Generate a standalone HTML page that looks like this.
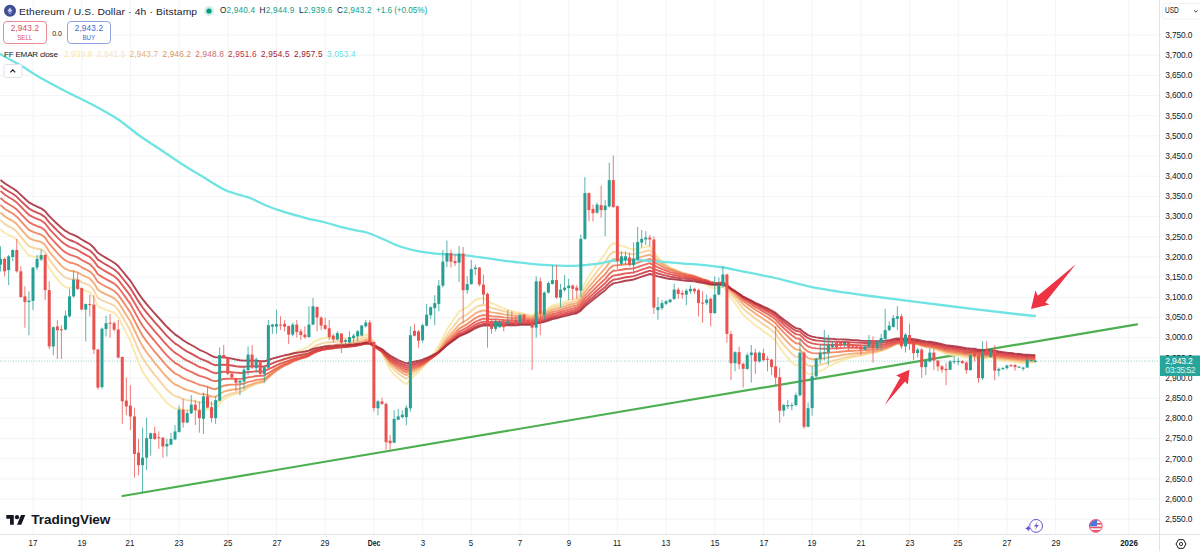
<!DOCTYPE html>
<html lang="en">
<head>
<meta charset="utf-8">
<title>ETHUSD 4h</title>
<style>
html,body{margin:0;padding:0;background:#fff;}
body{width:1200px;height:551px;overflow:hidden;position:relative;font-family:"Liberation Sans","DejaVu Sans",sans-serif;color:#131722;}
#chart{position:absolute;left:0;top:0;width:1200px;height:551px;}
.abs{position:absolute;white-space:nowrap;line-height:1;}
.title{left:19px;top:6.7px;font-size:9.8px;color:#1c2030;letter-spacing:0.14px;transform:scaleX(1.05);transform-origin:left center;}
.ohlc{top:7.1px;font-size:8.2px;color:#12a08a;letter-spacing:0.2px;}
.ohlc b{font-weight:normal;color:#131722;}
.box{position:absolute;top:21.4px;height:20.2px;width:41.6px;border:1px solid;border-radius:4px;text-align:center;background:#fff;}
.box .p{font-size:8.2px;letter-spacing:0.2px;margin-top:1.6px;line-height:9px;}
.box .l{font-size:6.9px;line-height:8px;margin-top:0.7px;display:block;transform:scaleX(0.9);}
.sell{left:3.2px;border-color:#e88a94;color:#de4a5e;}
.buy{left:67.2px;border-color:#8fa4e0;color:#4468d0;}
.spread{left:52.2px;top:29.6px;font-size:7px;color:#131722;}
.leg{top:50.8px;font-size:8.2px;letter-spacing:0.2px;}
.legn{font-size:8.1px;top:50.85px;letter-spacing:-0.23px;}
.pl{left:1165.3px;font-size:8.4px;color:#131722;letter-spacing:-0.15px;}
.tl{top:539.2px;font-size:8.8px;color:#131722;transform:translateX(-50%) scaleX(0.9);}
.tlb{font-weight:bold;}
.tlm{transform:translateX(-50%) scaleX(0.78);}
</style>
</head>
<body>
<svg id="chart" width="1200" height="551" viewBox="0 0 1200 551">
<rect width="1200" height="551" fill="#ffffff"/>
<line x1="33.0" y1="0" x2="33.0" y2="534" stroke="#f3f4f6" stroke-width="1"/>
<line x1="81.7" y1="0" x2="81.7" y2="534" stroke="#f3f4f6" stroke-width="1"/>
<line x1="130.4" y1="0" x2="130.4" y2="534" stroke="#f3f4f6" stroke-width="1"/>
<line x1="179.1" y1="0" x2="179.1" y2="534" stroke="#f3f4f6" stroke-width="1"/>
<line x1="227.8" y1="0" x2="227.8" y2="534" stroke="#f3f4f6" stroke-width="1"/>
<line x1="276.5" y1="0" x2="276.5" y2="534" stroke="#f3f4f6" stroke-width="1"/>
<line x1="325.2" y1="0" x2="325.2" y2="534" stroke="#f3f4f6" stroke-width="1"/>
<line x1="373.9" y1="0" x2="373.9" y2="534" stroke="#f3f4f6" stroke-width="1"/>
<line x1="422.6" y1="0" x2="422.6" y2="534" stroke="#f3f4f6" stroke-width="1"/>
<line x1="471.3" y1="0" x2="471.3" y2="534" stroke="#f3f4f6" stroke-width="1"/>
<line x1="520.0" y1="0" x2="520.0" y2="534" stroke="#f3f4f6" stroke-width="1"/>
<line x1="568.7" y1="0" x2="568.7" y2="534" stroke="#f3f4f6" stroke-width="1"/>
<line x1="617.4" y1="0" x2="617.4" y2="534" stroke="#f3f4f6" stroke-width="1"/>
<line x1="666.1" y1="0" x2="666.1" y2="534" stroke="#f3f4f6" stroke-width="1"/>
<line x1="714.8" y1="0" x2="714.8" y2="534" stroke="#f3f4f6" stroke-width="1"/>
<line x1="763.5" y1="0" x2="763.5" y2="534" stroke="#f3f4f6" stroke-width="1"/>
<line x1="812.2" y1="0" x2="812.2" y2="534" stroke="#f3f4f6" stroke-width="1"/>
<line x1="860.9" y1="0" x2="860.9" y2="534" stroke="#f3f4f6" stroke-width="1"/>
<line x1="909.6" y1="0" x2="909.6" y2="534" stroke="#f3f4f6" stroke-width="1"/>
<line x1="958.3" y1="0" x2="958.3" y2="534" stroke="#f3f4f6" stroke-width="1"/>
<line x1="1007.0" y1="0" x2="1007.0" y2="534" stroke="#f3f4f6" stroke-width="1"/>
<line x1="1055.7" y1="0" x2="1055.7" y2="534" stroke="#f3f4f6" stroke-width="1"/>
<line x1="1128.7" y1="0" x2="1128.7" y2="534" stroke="#f3f4f6" stroke-width="1"/>
<line x1="0" y1="519.2" x2="1159" y2="519.2" stroke="#f3f4f6" stroke-width="1"/>
<line x1="0" y1="499.0" x2="1159" y2="499.0" stroke="#f3f4f6" stroke-width="1"/>
<line x1="0" y1="478.9" x2="1159" y2="478.9" stroke="#f3f4f6" stroke-width="1"/>
<line x1="0" y1="458.7" x2="1159" y2="458.7" stroke="#f3f4f6" stroke-width="1"/>
<line x1="0" y1="438.5" x2="1159" y2="438.5" stroke="#f3f4f6" stroke-width="1"/>
<line x1="0" y1="418.3" x2="1159" y2="418.3" stroke="#f3f4f6" stroke-width="1"/>
<line x1="0" y1="398.2" x2="1159" y2="398.2" stroke="#f3f4f6" stroke-width="1"/>
<line x1="0" y1="378.0" x2="1159" y2="378.0" stroke="#f3f4f6" stroke-width="1"/>
<line x1="0" y1="357.8" x2="1159" y2="357.8" stroke="#f3f4f6" stroke-width="1"/>
<line x1="0" y1="337.6" x2="1159" y2="337.6" stroke="#f3f4f6" stroke-width="1"/>
<line x1="0" y1="317.5" x2="1159" y2="317.5" stroke="#f3f4f6" stroke-width="1"/>
<line x1="0" y1="297.3" x2="1159" y2="297.3" stroke="#f3f4f6" stroke-width="1"/>
<line x1="0" y1="277.1" x2="1159" y2="277.1" stroke="#f3f4f6" stroke-width="1"/>
<line x1="0" y1="256.9" x2="1159" y2="256.9" stroke="#f3f4f6" stroke-width="1"/>
<line x1="0" y1="236.8" x2="1159" y2="236.8" stroke="#f3f4f6" stroke-width="1"/>
<line x1="0" y1="216.6" x2="1159" y2="216.6" stroke="#f3f4f6" stroke-width="1"/>
<line x1="0" y1="196.4" x2="1159" y2="196.4" stroke="#f3f4f6" stroke-width="1"/>
<line x1="0" y1="176.2" x2="1159" y2="176.2" stroke="#f3f4f6" stroke-width="1"/>
<line x1="0" y1="156.1" x2="1159" y2="156.1" stroke="#f3f4f6" stroke-width="1"/>
<line x1="0" y1="135.9" x2="1159" y2="135.9" stroke="#f3f4f6" stroke-width="1"/>
<line x1="0" y1="115.7" x2="1159" y2="115.7" stroke="#f3f4f6" stroke-width="1"/>
<line x1="0" y1="95.5" x2="1159" y2="95.5" stroke="#f3f4f6" stroke-width="1"/>
<line x1="0" y1="75.3" x2="1159" y2="75.3" stroke="#f3f4f6" stroke-width="1"/>
<line x1="0" y1="55.2" x2="1159" y2="55.2" stroke="#f3f4f6" stroke-width="1"/>
<line x1="0" y1="35.0" x2="1159" y2="35.0" stroke="#f3f4f6" stroke-width="1"/>
<line x1="122.5" y1="496" x2="1137" y2="324.3" stroke="#4caf50" stroke-width="2.2" stroke-linecap="round"/>
<line x1="0" y1="361.1" x2="1159" y2="361.1" stroke="#26a69a" stroke-width="0.9" stroke-dasharray="1 1.6" opacity="0.6"/>
<path d="M0.5,229.0 L4.6,233.0 L8.7,235.2 L12.7,236.7 L16.8,240.0 L20.8,245.4 L24.9,250.8 L28.9,255.5 L33.0,256.7 L37.1,256.9 L41.1,256.7 L45.2,259.9 L49.2,268.1 L53.3,273.8 L57.3,279.1 L61.4,284.0 L65.5,287.0 L69.5,287.9 L73.6,287.1 L77.6,287.3 L81.7,289.4 L85.8,290.8 L89.8,292.2 L93.9,297.7 L97.9,306.2 L102.0,308.4 L106.0,309.8 L110.1,311.1 L114.2,312.9 L118.2,317.1 L122.3,325.1 L126.3,332.9 L130.4,340.8 L134.4,351.6 L138.5,362.4 L142.6,371.5 L146.6,377.8 L150.7,383.1 L154.7,388.4 L158.8,393.2 L162.9,398.2 L166.9,402.6 L171.0,406.1 L175.0,408.5 L179.1,408.6 L183.1,409.9 L187.2,410.2 L191.3,409.7 L195.3,409.7 L199.4,410.5 L203.4,409.2 L207.5,409.0 L211.6,409.9 L215.6,409.0 L219.7,403.8 L223.7,399.5 L227.8,397.0 L231.8,395.2 L235.9,394.0 L240.0,392.7 L244.0,390.5 L248.1,387.1 L252.1,385.2 L256.2,382.8 L260.2,382.0 L264.3,380.6 L268.4,375.3 L272.4,370.4 L276.5,366.0 L280.5,362.2 L284.6,358.8 L288.7,356.5 L292.7,353.4 L296.8,351.4 L300.8,349.9 L304.9,348.6 L308.9,346.3 L313.0,342.5 L317.1,340.2 L321.1,338.8 L325.2,337.8 L329.2,337.8 L333.3,337.9 L337.3,337.5 L341.4,338.0 L345.5,338.2 L349.5,338.1 L353.6,337.8 L357.6,337.2 L361.7,336.1 L365.8,334.8 L369.8,335.6 L373.9,342.5 L377.9,348.1 L382.0,353.4 L386.0,361.9 L390.1,369.6 L394.2,374.3 L398.2,378.3 L402.3,381.8 L406.3,384.3 L410.4,379.6 L414.5,375.4 L418.5,372.1 L422.6,367.6 L426.6,362.6 L430.7,357.3 L434.7,352.1 L438.8,345.8 L442.9,337.8 L446.9,329.7 L451.0,323.2 L455.0,317.5 L459.1,311.4 L463.1,309.4 L467.2,307.0 L471.3,303.4 L475.3,300.0 L479.4,298.5 L483.4,298.1 L487.5,300.5 L491.6,303.2 L495.6,304.9 L499.7,306.6 L503.7,308.5 L507.8,309.8 L511.8,311.0 L515.9,312.3 L520.0,312.6 L524.0,313.6 L528.1,314.5 L532.1,315.8 L536.2,312.5 L540.2,312.6 L544.3,310.7 L548.4,308.1 L552.4,305.4 L556.5,304.7 L560.5,303.2 L564.6,301.8 L568.7,300.2 L572.7,299.1 L576.8,298.3 L580.8,292.6 L584.9,283.2 L588.9,276.2 L593.0,270.2 L597.1,264.0 L601.1,258.8 L605.2,253.8 L609.2,246.7 L613.3,243.0 L617.4,244.7 L621.4,245.8 L625.5,246.8 L629.5,248.6 L633.6,249.5 L637.6,248.8 L641.7,247.9 L645.8,246.9 L649.8,246.2 L653.9,252.0 L657.9,257.3 L662.0,261.6 L666.0,265.4 L670.1,268.7 L674.2,270.7 L678.2,272.9 L682.3,274.9 L686.3,276.4 L690.4,277.6 L694.5,278.9 L698.5,281.2 L702.6,283.3 L706.6,284.9 L710.7,287.6 L714.7,288.2 L718.8,287.9 L722.9,286.7 L726.9,291.2 L731.0,298.0 L735.0,303.2 L739.1,309.0 L743.1,314.7 L747.2,318.5 L751.3,321.8 L755.3,325.5 L759.4,328.1 L763.4,331.2 L767.5,333.9 L771.6,337.0 L775.6,340.9 L779.7,347.5 L783.7,353.0 L787.8,358.0 L791.8,362.5 L795.9,365.6 L800.0,364.3 L804.0,370.3 L808.1,373.9 L812.1,374.1 L816.2,372.7 L820.3,370.8 L824.3,369.0 L828.4,366.7 L832.4,364.6 L836.5,362.9 L840.5,361.3 L844.6,359.5 L848.7,358.3 L852.7,357.3 L856.8,356.3 L860.8,355.7 L864.9,354.8 L868.9,353.4 L873.0,352.9 L877.1,351.8 L881.1,350.5 L885.2,348.6 L889.2,346.4 L893.3,343.7 L897.4,341.1 L901.4,341.6 L905.5,340.9 L909.5,341.2 L913.6,342.3 L917.6,343.0 L921.7,345.3 L925.8,346.8 L929.8,347.3 L933.9,348.6 L937.9,350.3 L942.0,352.1 L946.0,353.8 L950.1,354.6 L954.2,355.2 L958.2,355.8 L962.3,356.5 L966.3,357.8 L970.4,357.5 L974.5,357.4 L978.5,359.4 L982.6,358.9 L986.6,358.4 L990.7,357.7 L994.7,358.9 L998.8,359.8 L1002.9,360.6 L1006.9,361.1 L1011.0,361.6 L1015.0,362.1 L1019.1,362.5 L1023.2,363.0 L1027.2,362.7 L1031.3,362.5 L1035.3,362.3" fill="none" stroke="#f9e6a2" stroke-width="1.9" stroke-linejoin="round" opacity="0.88"/>
<path d="M0.5,220.0 L4.6,223.9 L8.7,226.4 L12.7,228.3 L16.8,231.6 L20.8,236.6 L24.9,241.6 L28.9,246.2 L33.0,247.8 L37.1,248.7 L41.1,249.2 L45.2,252.3 L49.2,259.6 L53.3,264.8 L57.3,269.8 L61.4,274.4 L65.5,277.6 L69.5,279.0 L73.6,279.1 L77.6,279.8 L81.7,282.1 L85.8,283.8 L89.8,285.5 L93.9,290.4 L97.9,297.9 L102.0,300.3 L106.0,302.0 L110.1,303.7 L114.2,305.7 L118.2,309.7 L122.3,316.7 L126.3,323.6 L130.4,330.8 L134.4,340.2 L138.5,349.8 L142.6,358.1 L146.6,364.3 L150.7,369.6 L154.7,374.9 L158.8,379.8 L162.9,384.9 L166.9,389.5 L171.0,393.3 L175.0,396.2 L179.1,397.2 L183.1,399.2 L187.2,400.3 L191.3,400.6 L195.3,401.3 L199.4,402.6 L203.4,402.1 L207.5,402.6 L211.6,403.8 L215.6,403.5 L219.7,399.7 L223.7,396.5 L227.8,394.8 L231.8,393.5 L235.9,392.6 L240.0,391.7 L244.0,390.0 L248.1,387.3 L252.1,385.8 L256.2,383.8 L260.2,383.0 L264.3,381.8 L268.4,377.4 L272.4,373.4 L276.5,369.6 L280.5,366.2 L284.6,363.1 L288.7,360.9 L292.7,358.2 L296.8,356.1 L300.8,354.5 L304.9,353.2 L308.9,351.0 L313.0,347.5 L317.1,345.2 L321.1,343.7 L325.2,342.6 L329.2,342.2 L333.3,342.0 L337.3,341.3 L341.4,341.4 L345.5,341.3 L349.5,341.0 L353.6,340.6 L357.6,339.8 L361.7,338.7 L365.8,337.5 L369.8,337.9 L373.9,343.3 L377.9,347.8 L382.0,352.1 L386.0,359.0 L390.1,365.5 L394.2,369.6 L398.2,373.2 L402.3,376.4 L406.3,378.8 L410.4,375.5 L414.5,372.4 L418.5,370.0 L422.6,366.5 L426.6,362.5 L430.7,358.3 L434.7,354.0 L438.8,348.8 L442.9,342.1 L446.9,335.2 L451.0,329.5 L455.0,324.4 L459.1,319.0 L463.1,316.8 L467.2,314.3 L471.3,310.8 L475.3,307.5 L479.4,305.7 L483.4,304.8 L487.5,306.2 L491.6,308.0 L495.6,309.0 L499.7,310.0 L503.7,311.3 L507.8,312.1 L511.8,313.0 L515.9,313.9 L520.0,314.0 L524.0,314.7 L528.1,315.3 L532.1,316.3 L536.2,313.6 L540.2,313.6 L544.3,312.0 L548.4,309.8 L552.4,307.5 L556.5,306.7 L560.5,305.4 L564.6,304.0 L568.7,302.6 L572.7,301.6 L576.8,300.7 L580.8,296.0 L584.9,288.0 L588.9,282.1 L593.0,276.7 L597.1,271.2 L601.1,266.5 L605.2,261.8 L609.2,255.5 L613.3,251.8 L617.4,252.5 L621.4,252.8 L625.5,253.1 L629.5,254.0 L633.6,254.4 L637.6,253.4 L641.7,252.3 L645.8,251.2 L649.8,250.3 L653.9,254.7 L657.9,258.7 L662.0,262.1 L666.0,265.1 L670.1,267.8 L674.2,269.5 L678.2,271.3 L682.3,273.1 L686.3,274.5 L690.4,275.6 L694.5,276.8 L698.5,278.8 L702.6,280.7 L706.6,282.2 L710.7,284.5 L714.7,285.3 L718.8,285.3 L722.9,284.5 L726.9,288.3 L731.0,294.0 L735.0,298.5 L739.1,303.6 L743.1,308.6 L747.2,312.2 L751.3,315.3 L755.3,318.8 L759.4,321.4 L763.4,324.4 L767.5,327.1 L771.6,330.2 L775.6,333.8 L779.7,339.7 L783.7,344.8 L787.8,349.4 L791.8,353.7 L795.9,356.9 L800.0,356.5 L804.0,361.9 L808.1,365.5 L812.1,366.3 L816.2,365.8 L820.3,364.7 L824.3,363.8 L828.4,362.3 L832.4,361.0 L836.5,359.9 L840.5,358.8 L844.6,357.6 L848.7,356.8 L852.7,356.0 L856.8,355.4 L860.8,354.9 L864.9,354.3 L868.9,353.2 L873.0,352.8 L877.1,351.9 L881.1,350.9 L885.2,349.3 L889.2,347.4 L893.3,345.2 L897.4,343.0 L901.4,343.2 L905.5,342.6 L909.5,342.7 L913.6,343.5 L917.6,343.9 L921.7,345.7 L925.8,346.9 L929.8,347.3 L933.9,348.3 L937.9,349.7 L942.0,351.2 L946.0,352.7 L950.1,353.4 L954.2,354.0 L958.2,354.5 L962.3,355.2 L966.3,356.3 L970.4,356.2 L974.5,356.2 L978.5,357.9 L982.6,357.6 L986.6,357.4 L990.7,356.8 L994.7,357.9 L998.8,358.7 L1002.9,359.5 L1006.9,359.9 L1011.0,360.4 L1015.0,360.9 L1019.1,361.4 L1023.2,361.8 L1027.2,361.7 L1031.3,361.6 L1035.3,361.5" fill="none" stroke="#f6cf96" stroke-width="1.9" stroke-linejoin="round" opacity="0.88"/>
<path d="M0.5,212.5 L4.6,216.3 L8.7,218.9 L12.7,220.9 L16.8,224.1 L20.8,228.8 L24.9,233.6 L28.9,237.9 L33.0,239.8 L37.1,241.0 L41.1,241.9 L45.2,245.1 L49.2,251.6 L53.3,256.5 L57.3,261.2 L61.4,265.7 L65.5,268.9 L69.5,270.7 L73.6,271.2 L77.6,272.4 L81.7,274.8 L85.8,276.7 L89.8,278.5 L93.9,283.1 L97.9,289.8 L102.0,292.4 L106.0,294.3 L110.1,296.2 L114.2,298.4 L118.2,302.2 L122.3,308.6 L126.3,314.9 L130.4,321.5 L134.4,330.0 L138.5,338.7 L142.6,346.4 L146.6,352.3 L150.7,357.5 L154.7,362.8 L158.8,367.7 L162.9,372.7 L166.9,377.3 L171.0,381.3 L175.0,384.5 L179.1,386.2 L183.1,388.5 L187.2,390.1 L191.3,391.0 L195.3,392.3 L199.4,393.9 L203.4,394.1 L207.5,395.0 L211.6,396.5 L215.6,396.7 L219.7,394.0 L223.7,391.7 L227.8,390.5 L231.8,389.7 L235.9,389.2 L240.0,388.7 L244.0,387.5 L248.1,385.3 L252.1,384.2 L256.2,382.6 L260.2,382.1 L264.3,381.1 L268.4,377.5 L272.4,374.1 L276.5,370.8 L280.5,367.9 L284.6,365.3 L288.7,363.3 L292.7,360.8 L296.8,358.9 L300.8,357.4 L304.9,356.1 L308.9,354.1 L313.0,351.0 L317.1,348.8 L321.1,347.3 L325.2,346.1 L329.2,345.5 L333.3,345.2 L337.3,344.4 L341.4,344.3 L345.5,344.0 L349.5,343.6 L353.6,343.0 L357.6,342.3 L361.7,341.2 L365.8,340.0 L369.8,340.2 L373.9,344.6 L377.9,348.2 L382.0,351.8 L386.0,357.7 L390.1,363.2 L394.2,366.8 L398.2,370.0 L402.3,372.9 L406.3,375.1 L410.4,372.5 L414.5,370.2 L418.5,368.3 L422.6,365.5 L426.6,362.2 L430.7,358.6 L434.7,355.1 L438.8,350.6 L442.9,344.8 L446.9,338.9 L451.0,333.9 L455.0,329.4 L459.1,324.5 L463.1,322.3 L467.2,319.8 L471.3,316.5 L475.3,313.4 L479.4,311.5 L483.4,310.4 L487.5,311.2 L491.6,312.4 L495.6,312.9 L499.7,313.5 L503.7,314.4 L507.8,314.9 L511.8,315.4 L515.9,316.0 L520.0,316.0 L524.0,316.4 L528.1,316.9 L532.1,317.6 L536.2,315.2 L540.2,315.1 L544.3,313.7 L548.4,311.7 L552.4,309.7 L556.5,308.9 L560.5,307.6 L564.6,306.3 L568.7,305.0 L572.7,304.0 L576.8,303.1 L580.8,299.0 L584.9,292.1 L588.9,286.8 L593.0,282.1 L597.1,277.1 L601.1,272.8 L605.2,268.4 L609.2,262.7 L613.3,259.1 L617.4,259.3 L621.4,259.1 L625.5,258.9 L629.5,259.3 L633.6,259.3 L637.6,258.2 L641.7,256.9 L645.8,255.7 L649.8,254.6 L653.9,258.0 L657.9,261.2 L662.0,263.9 L666.0,266.3 L670.1,268.5 L674.2,269.8 L678.2,271.4 L682.3,272.9 L686.3,274.0 L690.4,275.0 L694.5,276.0 L698.5,277.8 L702.6,279.4 L706.6,280.7 L710.7,282.8 L714.7,283.6 L718.8,283.7 L722.9,283.1 L726.9,286.4 L731.0,291.3 L735.0,295.3 L739.1,299.7 L743.1,304.2 L747.2,307.4 L751.3,310.4 L755.3,313.6 L759.4,316.2 L763.4,319.0 L767.5,321.6 L771.6,324.5 L775.6,328.0 L779.7,333.3 L783.7,337.9 L787.8,342.3 L791.8,346.3 L795.9,349.5 L800.0,349.7 L804.0,354.6 L808.1,358.1 L812.1,359.3 L816.2,359.2 L820.3,358.8 L824.3,358.4 L828.4,357.5 L832.4,356.7 L836.5,356.1 L840.5,355.4 L844.6,354.6 L848.7,354.1 L852.7,353.6 L856.8,353.2 L860.8,353.0 L864.9,352.6 L868.9,351.8 L873.0,351.6 L877.1,350.9 L881.1,350.1 L885.2,348.8 L889.2,347.3 L893.3,345.4 L897.4,343.5 L901.4,343.7 L905.5,343.1 L909.5,343.2 L913.6,343.8 L917.6,344.2 L921.7,345.7 L925.8,346.6 L929.8,347.0 L933.9,347.9 L937.9,349.1 L942.0,350.4 L946.0,351.7 L950.1,352.3 L954.2,352.9 L958.2,353.4 L962.3,354.0 L966.3,355.1 L970.4,355.1 L974.5,355.2 L978.5,356.6 L982.6,356.5 L986.6,356.3 L990.7,355.9 L994.7,356.9 L998.8,357.7 L1002.9,358.3 L1006.9,358.8 L1011.0,359.3 L1015.0,359.8 L1019.1,360.2 L1023.2,360.7 L1027.2,360.6 L1031.3,360.6 L1035.3,360.6" fill="none" stroke="#f2a468" stroke-width="1.9" stroke-linejoin="round" opacity="0.88"/>
<path d="M0.5,205.0 L4.6,208.7 L8.7,211.3 L12.7,213.5 L16.8,216.7 L20.8,221.2 L24.9,225.7 L28.9,229.8 L33.0,231.9 L37.1,233.4 L41.1,234.6 L45.2,237.7 L49.2,243.7 L53.3,248.4 L57.3,252.9 L61.4,257.2 L65.5,260.5 L69.5,262.5 L73.6,263.4 L77.6,264.8 L81.7,267.3 L85.8,269.4 L89.8,271.3 L93.9,275.7 L97.9,281.9 L102.0,284.5 L106.0,286.7 L110.1,288.7 L114.2,291.0 L118.2,294.7 L122.3,300.6 L126.3,306.5 L130.4,312.6 L134.4,320.4 L138.5,328.5 L142.6,335.7 L146.6,341.4 L150.7,346.5 L154.7,351.6 L158.8,356.4 L162.9,361.4 L166.9,366.0 L171.0,370.0 L175.0,373.5 L179.1,375.5 L183.1,378.1 L187.2,380.0 L191.3,381.4 L195.3,383.0 L199.4,384.9 L203.4,385.6 L207.5,386.8 L211.6,388.5 L215.6,389.2 L219.7,387.3 L223.7,385.7 L227.8,385.0 L231.8,384.6 L235.9,384.5 L240.0,384.3 L244.0,383.5 L248.1,381.9 L252.1,381.1 L256.2,379.9 L260.2,379.5 L264.3,378.9 L268.4,375.9 L272.4,373.0 L276.5,370.3 L280.5,367.8 L284.6,365.5 L288.7,363.8 L292.7,361.6 L296.8,360.0 L300.8,358.6 L304.9,357.4 L308.9,355.6 L313.0,352.8 L317.1,350.9 L321.1,349.5 L325.2,348.3 L329.2,347.7 L333.3,347.3 L337.3,346.5 L341.4,346.3 L345.5,345.9 L349.5,345.4 L353.6,344.9 L357.6,344.1 L361.7,343.1 L365.8,342.0 L369.8,342.0 L373.9,345.7 L377.9,348.8 L382.0,351.8 L386.0,356.9 L390.1,361.7 L394.2,364.8 L398.2,367.7 L402.3,370.3 L406.3,372.4 L410.4,370.3 L414.5,368.4 L418.5,366.9 L422.6,364.5 L426.6,361.8 L430.7,358.7 L434.7,355.7 L438.8,351.8 L442.9,346.8 L446.9,341.5 L451.0,337.1 L455.0,333.0 L459.1,328.6 L463.1,326.4 L467.2,324.1 L471.3,321.0 L475.3,318.1 L479.4,316.2 L483.4,315.0 L487.5,315.4 L491.6,316.2 L495.6,316.5 L499.7,316.8 L503.7,317.4 L507.8,317.6 L511.8,317.9 L515.9,318.3 L520.0,318.1 L524.0,318.4 L528.1,318.7 L532.1,319.2 L536.2,317.1 L540.2,316.9 L544.3,315.5 L548.4,313.7 L552.4,311.9 L556.5,311.1 L560.5,309.9 L564.6,308.6 L568.7,307.4 L572.7,306.3 L576.8,305.5 L580.8,301.8 L584.9,295.7 L588.9,291.0 L593.0,286.6 L597.1,282.1 L601.1,278.1 L605.2,274.1 L609.2,268.8 L613.3,265.4 L617.4,265.2 L621.4,264.7 L625.5,264.2 L629.5,264.3 L633.6,264.0 L637.6,262.7 L641.7,261.4 L645.8,260.1 L649.8,258.9 L653.9,261.6 L657.9,264.2 L662.0,266.3 L666.0,268.3 L670.1,270.0 L674.2,271.1 L678.2,272.4 L682.3,273.6 L686.3,274.5 L690.4,275.3 L694.5,276.2 L698.5,277.7 L702.6,279.2 L706.6,280.3 L710.7,282.1 L714.7,282.8 L718.8,282.9 L722.9,282.5 L726.9,285.3 L731.0,289.6 L735.0,293.1 L739.1,297.1 L743.1,301.1 L747.2,304.1 L751.3,306.8 L755.3,309.8 L759.4,312.2 L763.4,314.8 L767.5,317.3 L771.6,320.1 L775.6,323.3 L779.7,328.1 L783.7,332.4 L787.8,336.4 L791.8,340.3 L795.9,343.3 L800.0,343.8 L804.0,348.4 L808.1,351.7 L812.1,353.1 L816.2,353.4 L820.3,353.4 L824.3,353.3 L828.4,352.8 L832.4,352.4 L836.5,352.1 L840.5,351.7 L844.6,351.2 L848.7,351.0 L852.7,350.8 L856.8,350.6 L860.8,350.6 L864.9,350.3 L868.9,349.8 L873.0,349.7 L877.1,349.2 L881.1,348.6 L885.2,347.6 L889.2,346.3 L893.3,344.8 L897.4,343.2 L901.4,343.4 L905.5,342.9 L909.5,342.9 L913.6,343.5 L917.6,343.8 L921.7,345.1 L925.8,346.0 L929.8,346.4 L933.9,347.2 L937.9,348.2 L942.0,349.4 L946.0,350.6 L950.1,351.2 L954.2,351.7 L958.2,352.2 L962.3,352.8 L966.3,353.8 L970.4,353.9 L974.5,354.0 L978.5,355.4 L982.6,355.3 L986.6,355.2 L990.7,355.0 L994.7,355.8 L998.8,356.5 L1002.9,357.2 L1006.9,357.7 L1011.0,358.1 L1015.0,358.6 L1019.1,359.1 L1023.2,359.5 L1027.2,359.6 L1031.3,359.6 L1035.3,359.7" fill="none" stroke="#ee7c54" stroke-width="1.9" stroke-linejoin="round" opacity="0.88"/>
<path d="M0.5,198.0 L4.6,201.6 L8.7,204.2 L12.7,206.5 L16.8,209.6 L20.8,213.9 L24.9,218.2 L28.9,222.2 L33.0,224.4 L37.1,226.1 L41.1,227.5 L45.2,230.6 L49.2,236.2 L53.3,240.7 L57.3,245.0 L61.4,249.2 L65.5,252.4 L69.5,254.6 L73.6,255.8 L77.6,257.4 L81.7,260.0 L85.8,262.1 L89.8,264.2 L93.9,268.4 L97.9,274.2 L102.0,276.9 L106.0,279.1 L110.1,281.3 L114.2,283.6 L118.2,287.3 L122.3,292.8 L126.3,298.4 L130.4,304.1 L134.4,311.4 L138.5,318.9 L142.6,325.7 L146.6,331.2 L150.7,336.2 L154.7,341.2 L158.8,345.9 L162.9,350.8 L166.9,355.3 L171.0,359.4 L175.0,362.9 L179.1,365.2 L183.1,368.0 L187.2,370.2 L191.3,371.9 L195.3,373.8 L199.4,375.9 L203.4,376.9 L207.5,378.4 L211.6,380.4 L215.6,381.3 L219.7,380.0 L223.7,379.0 L227.8,378.7 L231.8,378.7 L235.9,378.9 L240.0,378.9 L244.0,378.5 L248.1,377.3 L252.1,376.9 L256.2,376.0 L260.2,375.9 L264.3,375.5 L268.4,373.0 L272.4,370.7 L276.5,368.4 L280.5,366.3 L284.6,364.4 L288.7,362.9 L292.7,361.0 L296.8,359.6 L300.8,358.4 L304.9,357.4 L308.9,355.8 L313.0,353.4 L317.1,351.6 L321.1,350.4 L325.2,349.3 L329.2,348.7 L333.3,348.3 L337.3,347.5 L341.4,347.3 L345.5,346.9 L349.5,346.5 L353.6,345.9 L357.6,345.2 L361.7,344.3 L365.8,343.2 L369.8,343.2 L373.9,346.4 L377.9,349.0 L382.0,351.7 L386.0,356.1 L390.1,360.4 L394.2,363.2 L398.2,365.8 L402.3,368.2 L406.3,370.1 L410.4,368.4 L414.5,366.8 L418.5,365.6 L422.6,363.6 L426.6,361.2 L430.7,358.6 L434.7,355.9 L438.8,352.4 L442.9,348.0 L446.9,343.4 L451.0,339.4 L455.0,335.7 L459.1,331.7 L463.1,329.6 L467.2,327.4 L471.3,324.6 L475.3,321.8 L479.4,320.0 L483.4,318.7 L487.5,318.9 L491.6,319.4 L495.6,319.5 L499.7,319.6 L503.7,320.0 L507.8,320.1 L511.8,320.2 L515.9,320.4 L520.0,320.2 L524.0,320.3 L528.1,320.5 L532.1,320.8 L536.2,318.9 L540.2,318.7 L544.3,317.4 L548.4,315.7 L552.4,314.0 L556.5,313.2 L560.5,312.0 L564.6,310.8 L568.7,309.6 L572.7,308.6 L576.8,307.7 L580.8,304.4 L584.9,298.9 L588.9,294.6 L593.0,290.6 L597.1,286.4 L601.1,282.7 L605.2,278.9 L609.2,274.1 L613.3,270.8 L617.4,270.4 L621.4,269.7 L625.5,269.0 L629.5,268.8 L633.6,268.4 L637.6,267.1 L641.7,265.7 L645.8,264.3 L649.8,263.1 L653.9,265.3 L657.9,267.3 L662.0,269.1 L666.0,270.6 L670.1,272.1 L674.2,272.9 L678.2,273.9 L682.3,274.9 L686.3,275.7 L690.4,276.3 L694.5,277.1 L698.5,278.3 L702.6,279.6 L706.6,280.5 L710.7,282.1 L714.7,282.7 L718.8,282.9 L722.9,282.5 L726.9,285.0 L731.0,288.8 L735.0,291.9 L739.1,295.4 L743.1,299.0 L747.2,301.7 L751.3,304.2 L755.3,307.0 L759.4,309.2 L763.4,311.7 L767.5,314.0 L771.6,316.6 L775.6,319.6 L779.7,324.0 L783.7,328.0 L787.8,331.7 L791.8,335.3 L795.9,338.2 L800.0,338.9 L804.0,343.2 L808.1,346.4 L812.1,347.9 L816.2,348.4 L820.3,348.6 L824.3,348.8 L828.4,348.6 L832.4,348.4 L836.5,348.3 L840.5,348.2 L844.6,347.9 L848.7,347.9 L852.7,347.8 L856.8,347.8 L860.8,347.9 L864.9,347.8 L868.9,347.5 L873.0,347.5 L877.1,347.2 L881.1,346.8 L885.2,346.0 L889.2,345.0 L893.3,343.6 L897.4,342.3 L901.4,342.5 L905.5,342.1 L909.5,342.2 L913.6,342.7 L917.6,343.1 L921.7,344.2 L925.8,345.0 L929.8,345.4 L933.9,346.2 L937.9,347.1 L942.0,348.2 L946.0,349.3 L950.1,349.9 L954.2,350.4 L958.2,351.0 L962.3,351.6 L966.3,352.5 L970.4,352.6 L974.5,352.8 L978.5,354.0 L982.6,354.0 L986.6,354.0 L990.7,353.8 L994.7,354.7 L998.8,355.4 L1002.9,356.0 L1006.9,356.5 L1011.0,356.9 L1015.0,357.4 L1019.1,357.9 L1023.2,358.3 L1027.2,358.4 L1031.3,358.5 L1035.3,358.6" fill="none" stroke="#e8584c" stroke-width="1.9" stroke-linejoin="round" opacity="0.88"/>
<path d="M0.5,191.0 L4.6,194.5 L8.7,197.2 L12.7,199.5 L16.8,202.6 L20.8,206.7 L24.9,210.9 L28.9,214.8 L33.0,217.1 L37.1,218.9 L41.1,220.4 L45.2,223.5 L49.2,228.8 L53.3,233.1 L57.3,237.3 L61.4,241.4 L65.5,244.6 L69.5,246.8 L73.6,248.3 L77.6,250.0 L81.7,252.6 L85.8,254.9 L89.8,257.0 L93.9,261.1 L97.9,266.6 L102.0,269.3 L106.0,271.6 L110.1,273.9 L114.2,276.3 L118.2,279.8 L122.3,285.1 L126.3,290.4 L130.4,295.9 L134.4,302.7 L138.5,309.8 L142.6,316.2 L146.6,321.5 L150.7,326.4 L154.7,331.3 L158.8,335.9 L162.9,340.7 L166.9,345.2 L171.0,349.3 L175.0,352.9 L179.1,355.3 L183.1,358.3 L187.2,360.6 L191.3,362.6 L195.3,364.6 L199.4,367.0 L203.4,368.2 L207.5,369.9 L211.6,372.0 L215.6,373.3 L219.7,372.5 L223.7,371.8 L227.8,371.9 L231.8,372.2 L235.9,372.6 L240.0,373.0 L244.0,372.8 L248.1,372.0 L252.1,371.9 L256.2,371.3 L260.2,371.4 L264.3,371.2 L268.4,369.2 L272.4,367.3 L276.5,365.4 L280.5,363.7 L284.6,362.1 L288.7,360.9 L292.7,359.3 L296.8,358.1 L300.8,357.1 L304.9,356.2 L308.9,354.9 L313.0,352.8 L317.1,351.2 L321.1,350.1 L325.2,349.2 L329.2,348.7 L333.3,348.3 L337.3,347.6 L341.4,347.4 L345.5,347.1 L349.5,346.6 L353.6,346.2 L357.6,345.5 L361.7,344.6 L365.8,343.7 L369.8,343.7 L373.9,346.5 L377.9,348.8 L382.0,351.2 L386.0,355.2 L390.1,359.0 L394.2,361.6 L398.2,364.0 L402.3,366.2 L406.3,368.0 L410.4,366.6 L414.5,365.2 L418.5,364.2 L422.6,362.5 L426.6,360.4 L430.7,358.1 L434.7,355.7 L438.8,352.7 L442.9,348.7 L446.9,344.5 L451.0,340.9 L455.0,337.5 L459.1,333.9 L463.1,332.0 L467.2,329.9 L471.3,327.3 L475.3,324.7 L479.4,322.9 L483.4,321.7 L487.5,321.7 L491.6,322.1 L495.6,322.0 L499.7,322.0 L503.7,322.3 L507.8,322.2 L511.8,322.3 L515.9,322.4 L520.0,322.1 L524.0,322.1 L528.1,322.1 L532.1,322.4 L536.2,320.6 L540.2,320.3 L544.3,319.1 L548.4,317.5 L552.4,315.9 L556.5,315.1 L560.5,314.0 L564.6,312.9 L568.7,311.7 L572.7,310.7 L576.8,309.8 L580.8,306.7 L584.9,301.8 L588.9,297.8 L593.0,294.1 L597.1,290.2 L601.1,286.7 L605.2,283.2 L609.2,278.7 L613.3,275.6 L617.4,275.0 L621.4,274.2 L625.5,273.4 L629.5,273.0 L633.6,272.4 L637.6,271.1 L641.7,269.7 L645.8,268.3 L649.8,267.0 L653.9,268.8 L657.9,270.5 L662.0,271.9 L666.0,273.2 L670.1,274.3 L674.2,275.0 L678.2,275.8 L682.3,276.6 L686.3,277.2 L690.4,277.7 L694.5,278.3 L698.5,279.4 L702.6,280.5 L706.6,281.3 L710.7,282.7 L714.7,283.2 L718.8,283.3 L722.9,282.9 L726.9,285.1 L731.0,288.5 L735.0,291.3 L739.1,294.4 L743.1,297.7 L747.2,300.2 L751.3,302.4 L755.3,305.0 L759.4,307.1 L763.4,309.4 L767.5,311.6 L771.6,314.0 L775.6,316.7 L779.7,320.8 L783.7,324.5 L787.8,328.0 L791.8,331.4 L795.9,334.1 L800.0,334.9 L804.0,338.9 L808.1,341.9 L812.1,343.4 L816.2,344.1 L820.3,344.5 L824.3,344.8 L828.4,344.8 L832.4,344.8 L836.5,344.9 L840.5,344.9 L844.6,344.8 L848.7,344.9 L852.7,345.0 L856.8,345.1 L860.8,345.3 L864.9,345.4 L868.9,345.2 L873.0,345.3 L877.1,345.1 L881.1,344.8 L885.2,344.2 L889.2,343.4 L893.3,342.3 L897.4,341.1 L901.4,341.4 L905.5,341.1 L909.5,341.2 L913.6,341.7 L917.6,342.0 L921.7,343.1 L925.8,343.9 L929.8,344.3 L933.9,345.0 L937.9,345.9 L942.0,346.9 L946.0,348.0 L950.1,348.5 L954.2,349.1 L958.2,349.6 L962.3,350.2 L966.3,351.1 L970.4,351.2 L974.5,351.5 L978.5,352.6 L982.6,352.7 L986.6,352.8 L990.7,352.6 L994.7,353.4 L998.8,354.1 L1002.9,354.7 L1006.9,355.2 L1011.0,355.7 L1015.0,356.2 L1019.1,356.6 L1023.2,357.1 L1027.2,357.2 L1031.3,357.3 L1035.3,357.5" fill="none" stroke="#e04846" stroke-width="1.9" stroke-linejoin="round" opacity="0.88"/>
<path d="M0.5,185.5 L4.6,188.9 L8.7,191.5 L12.7,193.8 L16.8,196.8 L20.8,200.8 L24.9,204.8 L28.9,208.5 L33.0,210.8 L37.1,212.7 L41.1,214.4 L45.2,217.3 L49.2,222.4 L53.3,226.5 L57.3,230.6 L61.4,234.5 L65.5,237.7 L69.5,240.0 L73.6,241.5 L77.6,243.4 L81.7,246.0 L85.8,248.3 L89.8,250.5 L93.9,254.4 L97.9,259.6 L102.0,262.3 L106.0,264.7 L110.1,267.0 L114.2,269.5 L118.2,272.9 L122.3,278.0 L126.3,283.0 L130.4,288.2 L134.4,294.7 L138.5,301.4 L142.6,307.5 L146.6,312.7 L150.7,317.4 L154.7,322.2 L158.8,326.7 L162.9,331.4 L166.9,335.8 L171.0,339.9 L175.0,343.4 L179.1,346.0 L183.1,349.0 L187.2,351.6 L191.3,353.6 L195.3,355.9 L199.4,358.3 L203.4,359.8 L207.5,361.7 L211.6,363.9 L215.6,365.3 L219.7,364.9 L223.7,364.6 L227.8,365.0 L231.8,365.5 L235.9,366.2 L240.0,366.7 L244.0,366.8 L248.1,366.4 L252.1,366.4 L256.2,366.1 L260.2,366.5 L264.3,366.5 L268.4,364.9 L272.4,363.3 L276.5,361.7 L280.5,360.3 L284.6,359.0 L288.7,358.0 L292.7,356.7 L296.8,355.8 L300.8,355.0 L304.9,354.3 L308.9,353.1 L313.0,351.3 L317.1,349.9 L321.1,349.0 L325.2,348.2 L329.2,347.8 L333.3,347.4 L337.3,346.9 L341.4,346.7 L345.5,346.4 L349.5,346.1 L353.6,345.7 L357.6,345.1 L361.7,344.3 L365.8,343.5 L369.8,343.5 L373.9,346.0 L377.9,348.2 L382.0,350.4 L386.0,354.0 L390.1,357.5 L394.2,359.9 L398.2,362.1 L402.3,364.1 L406.3,365.9 L410.4,364.7 L414.5,363.5 L418.5,362.6 L422.6,361.2 L426.6,359.3 L430.7,357.3 L434.7,355.2 L438.8,352.4 L442.9,348.9 L446.9,345.1 L451.0,341.8 L455.0,338.8 L459.1,335.4 L463.1,333.6 L467.2,331.7 L471.3,329.2 L475.3,326.8 L479.4,325.2 L483.4,324.0 L487.5,323.9 L491.6,324.1 L495.6,324.0 L499.7,323.9 L503.7,324.1 L507.8,324.0 L511.8,323.9 L515.9,324.0 L520.0,323.6 L524.0,323.6 L528.1,323.6 L532.1,323.7 L536.2,322.1 L540.2,321.8 L544.3,320.6 L548.4,319.1 L552.4,317.6 L556.5,316.8 L560.5,315.8 L564.6,314.7 L568.7,313.5 L572.7,312.5 L576.8,311.7 L580.8,308.8 L584.9,304.3 L588.9,300.6 L593.0,297.2 L597.1,293.5 L601.1,290.3 L605.2,286.9 L609.2,282.8 L613.3,279.8 L617.4,279.1 L621.4,278.2 L625.5,277.3 L629.5,276.8 L633.6,276.1 L637.6,274.8 L641.7,273.4 L645.8,272.0 L649.8,270.7 L653.9,272.1 L657.9,273.5 L662.0,274.7 L666.0,275.7 L670.1,276.7 L674.2,277.2 L678.2,277.8 L682.3,278.5 L686.3,278.9 L690.4,279.3 L694.5,279.8 L698.5,280.7 L702.6,281.6 L706.6,282.3 L710.7,283.5 L714.7,284.0 L718.8,284.0 L722.9,283.6 L726.9,285.6 L731.0,288.6 L735.0,291.1 L739.1,294.0 L743.1,296.9 L747.2,299.2 L751.3,301.3 L755.3,303.7 L759.4,305.6 L763.4,307.7 L767.5,309.8 L771.6,312.0 L775.6,314.6 L779.7,318.3 L783.7,321.7 L787.8,325.0 L791.8,328.2 L795.9,330.8 L800.0,331.6 L804.0,335.4 L808.1,338.2 L812.1,339.7 L816.2,340.5 L820.3,340.9 L824.3,341.4 L828.4,341.5 L832.4,341.6 L836.5,341.8 L840.5,342.0 L844.6,342.0 L848.7,342.2 L852.7,342.4 L856.8,342.6 L860.8,342.9 L864.9,343.0 L868.9,342.9 L873.0,343.1 L877.1,343.1 L881.1,342.9 L885.2,342.4 L889.2,341.7 L893.3,340.8 L897.4,339.8 L901.4,340.1 L905.5,339.9 L909.5,340.0 L913.6,340.5 L917.6,340.9 L921.7,341.9 L925.8,342.6 L929.8,343.0 L933.9,343.7 L937.9,344.6 L942.0,345.6 L946.0,346.6 L950.1,347.1 L954.2,347.7 L958.2,348.2 L962.3,348.8 L966.3,349.6 L970.4,349.9 L974.5,350.1 L978.5,351.2 L982.6,351.3 L986.6,351.4 L990.7,351.4 L994.7,352.1 L998.8,352.8 L1002.9,353.4 L1006.9,353.9 L1011.0,354.4 L1015.0,354.9 L1019.1,355.3 L1023.2,355.8 L1027.2,356.0 L1031.3,356.1 L1035.3,356.3" fill="none" stroke="#cc3840" stroke-width="1.9" stroke-linejoin="round" opacity="0.88"/>
<path d="M0.5,180.0 L4.6,183.3 L8.7,185.9 L12.7,188.2 L16.8,191.1 L20.8,194.9 L24.9,198.7 L28.9,202.4 L33.0,204.7 L37.1,206.6 L41.1,208.4 L45.2,211.3 L49.2,216.1 L53.3,220.1 L57.3,224.0 L61.4,227.8 L65.5,230.9 L69.5,233.3 L73.6,234.9 L77.6,236.9 L81.7,239.5 L85.8,241.8 L89.8,244.0 L93.9,247.8 L97.9,252.8 L102.0,255.5 L106.0,257.9 L110.1,260.3 L114.2,262.8 L118.2,266.1 L122.3,271.0 L126.3,275.8 L130.4,280.8 L134.4,287.0 L138.5,293.4 L142.6,299.2 L146.6,304.2 L150.7,308.8 L154.7,313.5 L158.8,317.9 L162.9,322.5 L166.9,326.8 L171.0,330.8 L175.0,334.4 L179.1,337.1 L183.1,340.2 L187.2,342.8 L191.3,345.0 L195.3,347.3 L199.4,349.8 L203.4,351.5 L207.5,353.5 L211.6,355.8 L215.6,357.4 L219.7,357.3 L223.7,357.3 L227.8,357.9 L231.8,358.6 L235.9,359.5 L240.0,360.2 L244.0,360.6 L248.1,360.4 L252.1,360.6 L256.2,360.6 L260.2,361.1 L264.3,361.3 L268.4,360.0 L272.4,358.7 L276.5,357.5 L280.5,356.3 L284.6,355.3 L288.7,354.5 L292.7,353.5 L296.8,352.7 L300.8,352.1 L304.9,351.5 L308.9,350.6 L313.0,349.0 L317.1,347.9 L321.1,347.1 L325.2,346.4 L329.2,346.1 L333.3,345.9 L337.3,345.4 L341.4,345.3 L345.5,345.1 L349.5,344.8 L353.6,344.5 L357.6,344.0 L361.7,343.4 L365.8,342.6 L369.8,342.6 L373.9,345.0 L377.9,347.0 L382.0,349.0 L386.0,352.4 L390.1,355.6 L394.2,357.9 L398.2,360.0 L402.3,361.9 L406.3,363.5 L410.4,362.5 L414.5,361.6 L418.5,360.8 L422.6,359.6 L426.6,358.0 L430.7,356.1 L434.7,354.2 L438.8,351.8 L442.9,348.6 L446.9,345.2 L451.0,342.2 L455.0,339.4 L459.1,336.3 L463.1,334.6 L467.2,332.8 L471.3,330.6 L475.3,328.3 L479.4,326.7 L483.4,325.6 L487.5,325.5 L491.6,325.6 L495.6,325.5 L499.7,325.4 L503.7,325.4 L507.8,325.3 L511.8,325.2 L515.9,325.2 L520.0,324.8 L524.0,324.8 L528.1,324.7 L532.1,324.8 L536.2,323.3 L540.2,322.9 L544.3,321.8 L548.4,320.5 L552.4,319.0 L556.5,318.3 L560.5,317.2 L564.6,316.2 L568.7,315.1 L572.7,314.1 L576.8,313.3 L580.8,310.6 L584.9,306.4 L588.9,303.0 L593.0,299.8 L597.1,296.4 L601.1,293.3 L605.2,290.2 L609.2,286.2 L613.3,283.4 L617.4,282.6 L621.4,281.7 L625.5,280.8 L629.5,280.2 L633.6,279.5 L637.6,278.1 L641.7,276.7 L645.8,275.3 L649.8,274.0 L653.9,275.2 L657.9,276.4 L662.0,277.3 L666.0,278.2 L670.1,279.0 L674.2,279.3 L678.2,279.8 L682.3,280.4 L686.3,280.7 L690.4,281.0 L694.5,281.4 L698.5,282.2 L702.6,282.9 L706.6,283.5 L710.7,284.6 L714.7,284.9 L718.8,284.9 L722.9,284.6 L726.9,286.3 L731.0,289.1 L735.0,291.3 L739.1,293.9 L743.1,296.6 L747.2,298.7 L751.3,300.6 L755.3,302.8 L759.4,304.6 L763.4,306.6 L767.5,308.4 L771.6,310.5 L775.6,312.9 L779.7,316.4 L783.7,319.6 L787.8,322.6 L791.8,325.6 L795.9,328.1 L800.0,329.0 L804.0,332.4 L808.1,335.1 L812.1,336.6 L816.2,337.4 L820.3,338.0 L824.3,338.5 L828.4,338.7 L832.4,338.9 L836.5,339.2 L840.5,339.4 L844.6,339.5 L848.7,339.8 L852.7,340.1 L856.8,340.3 L860.8,340.7 L864.9,340.9 L868.9,340.9 L873.0,341.1 L877.1,341.1 L881.1,341.0 L885.2,340.6 L889.2,340.1 L893.3,339.3 L897.4,338.5 L901.4,338.8 L905.5,338.6 L909.5,338.8 L913.6,339.3 L917.6,339.7 L921.7,340.7 L925.8,341.4 L929.8,341.8 L933.9,342.4 L937.9,343.3 L942.0,344.2 L946.0,345.2 L950.1,345.7 L954.2,346.3 L958.2,346.8 L962.3,347.4 L966.3,348.2 L970.4,348.5 L974.5,348.7 L978.5,349.8 L982.6,349.9 L986.6,350.1 L990.7,350.1 L994.7,350.8 L998.8,351.5 L1002.9,352.1 L1006.9,352.6 L1011.0,353.0 L1015.0,353.6 L1019.1,354.0 L1023.2,354.5 L1027.2,354.7 L1031.3,354.9 L1035.3,355.1" fill="none" stroke="#a82a3a" stroke-width="1.9" stroke-linejoin="round" opacity="0.88"/>
<path d="M0.0,54.0C3.3,55.8 13.3,61.1 20.0,65.0C26.7,68.9 32.5,73.2 40.0,77.5C47.5,81.8 55.8,86.2 65.0,91.0C74.2,95.8 86.2,101.3 95.0,106.0C103.8,110.7 110.0,114.0 117.5,119.0C125.0,124.0 132.5,130.7 140.0,136.0C147.5,141.3 155.0,146.0 162.5,151.0C170.0,156.0 178.8,162.0 185.0,166.0C191.2,170.0 193.3,171.0 200.0,175.0C206.7,179.0 216.7,186.2 225.0,190.0C233.3,193.8 243.1,195.4 250.0,198.0C256.9,200.6 261.1,203.5 266.7,205.8C272.2,208.1 276.6,209.6 283.3,211.7C290.0,213.8 299.8,216.5 306.7,218.3C313.6,220.1 317.8,220.7 325.0,222.5C332.2,224.3 343.1,227.5 350.0,229.2C356.9,230.9 361.1,230.8 366.7,232.5C372.2,234.2 377.8,236.9 383.3,239.2C388.9,241.5 394.4,244.6 400.0,246.5C405.6,248.4 411.1,249.7 416.7,250.8C422.2,251.9 429.1,252.7 433.3,253.3C437.5,253.9 436.4,253.9 441.7,254.2C447.0,254.5 456.9,254.6 465.0,255.3C473.1,256.1 481.7,257.6 490.0,258.7C498.3,259.8 506.7,261.0 515.0,262.0C523.3,263.0 531.7,264.1 540.0,264.7C548.3,265.3 558.0,265.7 565.0,265.8C572.0,265.9 576.2,265.7 581.7,265.3C587.2,264.9 592.8,264.5 598.3,263.7C603.8,262.9 609.4,261.1 615.0,260.5C620.6,259.9 624.8,259.7 631.7,259.8C638.7,259.9 648.4,260.7 656.7,261.3C665.0,261.9 673.4,262.6 681.7,263.3C690.0,264.0 699.8,264.6 706.7,265.3C713.6,266.0 717.8,266.6 723.3,267.5C728.8,268.4 734.4,269.7 740.0,270.8C745.6,271.9 751.2,273.1 756.7,274.2C762.2,275.3 767.8,276.2 773.3,277.5C778.8,278.8 784.4,280.3 790.0,281.7C795.6,283.1 801.2,284.6 806.7,285.8C812.2,287.1 817.8,288.2 823.3,289.2C828.8,290.2 832.2,290.7 840.0,291.8C847.8,292.9 852.5,293.7 870.0,296.0C887.5,298.3 920.0,302.4 945.0,305.5C970.0,308.6 1005.0,312.8 1020.0,314.5C1035.0,316.2 1032.5,315.8 1035.0,316.0" fill="none" stroke="#6fe4e2" stroke-width="2.3" stroke-linecap="round"/>
<line x1="0.54" y1="246.3" x2="0.54" y2="271.3" stroke="#289f94" stroke-width="0.9" opacity="0.85"/>
<rect x="-0.96" y="258.8" width="3" height="5.8" fill="#289f94"/>
<line x1="4.59" y1="257.5" x2="4.59" y2="276.3" stroke="#ea5250" stroke-width="0.9" opacity="0.85"/>
<rect x="3.09" y="258.8" width="3" height="12.5" fill="#ea5250"/>
<line x1="8.65" y1="255.0" x2="8.65" y2="285.1" stroke="#289f94" stroke-width="0.9" opacity="0.85"/>
<rect x="7.15" y="256.3" width="3" height="13.8" fill="#289f94"/>
<line x1="12.71" y1="249.5" x2="12.71" y2="261.3" stroke="#289f94" stroke-width="0.9" opacity="0.85"/>
<rect x="11.21" y="250.0" width="3" height="7.0" fill="#289f94"/>
<line x1="16.77" y1="238.8" x2="16.77" y2="272.6" stroke="#ea5250" stroke-width="0.9" opacity="0.85"/>
<rect x="15.27" y="250.0" width="3" height="21.3" fill="#ea5250"/>
<line x1="20.83" y1="266.3" x2="20.83" y2="297.6" stroke="#ea5250" stroke-width="0.9" opacity="0.85"/>
<rect x="19.33" y="271.3" width="3" height="25.8" fill="#ea5250"/>
<line x1="24.88" y1="286.3" x2="24.88" y2="327.7" stroke="#ea5250" stroke-width="0.9" opacity="0.85"/>
<rect x="23.38" y="296.4" width="3" height="5.8" fill="#ea5250"/>
<line x1="28.94" y1="291.4" x2="28.94" y2="335.2" stroke="#289f94" stroke-width="0.9" opacity="0.85"/>
<rect x="27.44" y="300.6" width="3" height="1.5" fill="#289f94"/>
<line x1="33.00" y1="267.1" x2="33.00" y2="310.1" stroke="#289f94" stroke-width="0.9" opacity="0.85"/>
<rect x="31.50" y="267.6" width="3" height="33.3" fill="#289f94"/>
<line x1="37.06" y1="255.0" x2="37.06" y2="270.1" stroke="#289f94" stroke-width="0.9" opacity="0.85"/>
<rect x="35.56" y="258.8" width="3" height="8.8" fill="#289f94"/>
<line x1="41.12" y1="249.5" x2="41.12" y2="261.3" stroke="#289f94" stroke-width="0.9" opacity="0.85"/>
<rect x="39.62" y="255.0" width="3" height="4.5" fill="#289f94"/>
<line x1="45.17" y1="253.8" x2="45.17" y2="300.1" stroke="#ea5250" stroke-width="0.9" opacity="0.85"/>
<rect x="43.67" y="255.0" width="3" height="35.1" fill="#ea5250"/>
<line x1="49.23" y1="281.3" x2="49.23" y2="349.0" stroke="#ea5250" stroke-width="0.9" opacity="0.85"/>
<rect x="47.73" y="290.1" width="3" height="56.3" fill="#ea5250"/>
<line x1="53.29" y1="326.4" x2="53.29" y2="355.2" stroke="#289f94" stroke-width="0.9" opacity="0.85"/>
<rect x="51.79" y="327.2" width="3" height="19.3" fill="#289f94"/>
<line x1="57.35" y1="320.2" x2="57.35" y2="359.0" stroke="#ea5250" stroke-width="0.9" opacity="0.85"/>
<rect x="55.85" y="326.4" width="3" height="3.8" fill="#ea5250"/>
<line x1="61.41" y1="325.2" x2="61.41" y2="359.0" stroke="#ea5250" stroke-width="0.9" opacity="0.85"/>
<rect x="59.91" y="329.2" width="3" height="1.0" fill="#ea5250"/>
<line x1="65.46" y1="310.6" x2="65.46" y2="330.2" stroke="#289f94" stroke-width="0.9" opacity="0.85"/>
<rect x="63.96" y="315.6" width="3" height="14.0" fill="#289f94"/>
<line x1="69.52" y1="288.9" x2="69.52" y2="317.7" stroke="#289f94" stroke-width="0.9" opacity="0.85"/>
<rect x="68.02" y="296.4" width="3" height="20.0" fill="#289f94"/>
<line x1="73.58" y1="270.6" x2="73.58" y2="297.6" stroke="#289f94" stroke-width="0.9" opacity="0.85"/>
<rect x="72.08" y="279.6" width="3" height="16.8" fill="#289f94"/>
<line x1="77.64" y1="272.6" x2="77.64" y2="290.1" stroke="#ea5250" stroke-width="0.9" opacity="0.85"/>
<rect x="76.14" y="279.6" width="3" height="9.3" fill="#ea5250"/>
<line x1="81.70" y1="287.6" x2="81.70" y2="310.1" stroke="#ea5250" stroke-width="0.9" opacity="0.85"/>
<rect x="80.20" y="288.1" width="3" height="21.5" fill="#ea5250"/>
<line x1="85.75" y1="303.6" x2="85.75" y2="341.4" stroke="#289f94" stroke-width="0.9" opacity="0.85"/>
<rect x="84.25" y="304.1" width="3" height="5.5" fill="#289f94"/>
<line x1="89.81" y1="294.6" x2="89.81" y2="316.4" stroke="#ea5250" stroke-width="0.9" opacity="0.85"/>
<rect x="88.31" y="304.1" width="3" height="1.0" fill="#ea5250"/>
<line x1="93.87" y1="295.1" x2="93.87" y2="354.0" stroke="#ea5250" stroke-width="0.9" opacity="0.85"/>
<rect x="92.37" y="304.6" width="3" height="45.1" fill="#ea5250"/>
<line x1="97.93" y1="348.8" x2="97.93" y2="389.6" stroke="#ea5250" stroke-width="0.9" opacity="0.85"/>
<rect x="96.43" y="349.5" width="3" height="38.1" fill="#ea5250"/>
<line x1="101.99" y1="327.5" x2="101.99" y2="388.8" stroke="#289f94" stroke-width="0.9" opacity="0.85"/>
<rect x="100.49" y="328.7" width="3" height="58.4" fill="#289f94"/>
<line x1="106.04" y1="315.6" x2="106.04" y2="336.4" stroke="#289f94" stroke-width="0.9" opacity="0.85"/>
<rect x="104.54" y="323.2" width="3" height="5.8" fill="#289f94"/>
<line x1="110.10" y1="313.9" x2="110.10" y2="337.7" stroke="#ea5250" stroke-width="0.9" opacity="0.85"/>
<rect x="108.60" y="322.7" width="3" height="1.0" fill="#ea5250"/>
<line x1="114.16" y1="321.4" x2="114.16" y2="331.4" stroke="#ea5250" stroke-width="0.9" opacity="0.85"/>
<rect x="112.66" y="323.2" width="3" height="6.5" fill="#ea5250"/>
<line x1="118.22" y1="320.0" x2="118.22" y2="358.8" stroke="#ea5250" stroke-width="0.9" opacity="0.85"/>
<rect x="116.72" y="329.5" width="3" height="28.0" fill="#ea5250"/>
<line x1="122.28" y1="356.3" x2="122.28" y2="423.9" stroke="#ea5250" stroke-width="0.9" opacity="0.85"/>
<rect x="120.78" y="357.0" width="3" height="44.3" fill="#ea5250"/>
<line x1="126.33" y1="377.6" x2="126.33" y2="415.1" stroke="#ea5250" stroke-width="0.9" opacity="0.85"/>
<rect x="124.83" y="400.6" width="3" height="5.8" fill="#ea5250"/>
<line x1="130.39" y1="385.1" x2="130.39" y2="430.2" stroke="#ea5250" stroke-width="0.9" opacity="0.85"/>
<rect x="128.89" y="405.6" width="3" height="10.8" fill="#ea5250"/>
<line x1="134.45" y1="407.6" x2="134.45" y2="477.7" stroke="#ea5250" stroke-width="0.9" opacity="0.85"/>
<rect x="132.95" y="416.4" width="3" height="37.6" fill="#ea5250"/>
<line x1="138.51" y1="438.9" x2="138.51" y2="475.2" stroke="#ea5250" stroke-width="0.9" opacity="0.85"/>
<rect x="137.01" y="452.7" width="3" height="12.5" fill="#ea5250"/>
<line x1="142.57" y1="427.7" x2="142.57" y2="492.3" stroke="#289f94" stroke-width="0.9" opacity="0.85"/>
<rect x="141.07" y="457.7" width="3" height="7.5" fill="#289f94"/>
<line x1="146.62" y1="417.6" x2="146.62" y2="470.2" stroke="#289f94" stroke-width="0.9" opacity="0.85"/>
<rect x="145.12" y="438.2" width="3" height="19.5" fill="#289f94"/>
<line x1="150.68" y1="432.7" x2="150.68" y2="455.7" stroke="#289f94" stroke-width="0.9" opacity="0.85"/>
<rect x="149.18" y="433.2" width="3" height="5.8" fill="#289f94"/>
<line x1="154.74" y1="426.4" x2="154.74" y2="440.2" stroke="#ea5250" stroke-width="0.9" opacity="0.85"/>
<rect x="153.24" y="433.2" width="3" height="5.8" fill="#ea5250"/>
<line x1="158.80" y1="431.4" x2="158.80" y2="448.9" stroke="#ea5250" stroke-width="0.9" opacity="0.85"/>
<rect x="157.30" y="437.2" width="3" height="1.0" fill="#ea5250"/>
<line x1="162.86" y1="437.2" x2="162.86" y2="457.7" stroke="#ea5250" stroke-width="0.9" opacity="0.85"/>
<rect x="161.36" y="437.7" width="3" height="8.8" fill="#ea5250"/>
<line x1="166.91" y1="438.9" x2="166.91" y2="456.5" stroke="#289f94" stroke-width="0.9" opacity="0.85"/>
<rect x="165.41" y="443.9" width="3" height="2.5" fill="#289f94"/>
<line x1="170.97" y1="432.7" x2="170.97" y2="445.2" stroke="#289f94" stroke-width="0.9" opacity="0.85"/>
<rect x="169.47" y="438.9" width="3" height="5.8" fill="#289f94"/>
<line x1="175.03" y1="425.1" x2="175.03" y2="440.2" stroke="#289f94" stroke-width="0.9" opacity="0.85"/>
<rect x="173.53" y="431.4" width="3" height="8.0" fill="#289f94"/>
<line x1="179.09" y1="405.6" x2="179.09" y2="432.7" stroke="#289f94" stroke-width="0.9" opacity="0.85"/>
<rect x="177.59" y="409.6" width="3" height="22.3" fill="#289f94"/>
<line x1="183.15" y1="398.9" x2="183.15" y2="427.7" stroke="#ea5250" stroke-width="0.9" opacity="0.85"/>
<rect x="181.65" y="409.6" width="3" height="13.0" fill="#ea5250"/>
<line x1="187.20" y1="410.1" x2="187.20" y2="423.1" stroke="#289f94" stroke-width="0.9" opacity="0.85"/>
<rect x="185.70" y="413.1" width="3" height="9.5" fill="#289f94"/>
<line x1="191.26" y1="395.1" x2="191.26" y2="413.9" stroke="#289f94" stroke-width="0.9" opacity="0.85"/>
<rect x="189.76" y="404.6" width="3" height="8.8" fill="#289f94"/>
<line x1="195.32" y1="400.1" x2="195.32" y2="425.1" stroke="#ea5250" stroke-width="0.9" opacity="0.85"/>
<rect x="193.82" y="404.6" width="3" height="5.5" fill="#ea5250"/>
<line x1="199.38" y1="401.4" x2="199.38" y2="432.7" stroke="#ea5250" stroke-width="0.9" opacity="0.85"/>
<rect x="197.88" y="410.1" width="3" height="8.0" fill="#ea5250"/>
<line x1="203.44" y1="392.6" x2="203.44" y2="433.9" stroke="#289f94" stroke-width="0.9" opacity="0.85"/>
<rect x="201.94" y="396.3" width="3" height="22.5" fill="#289f94"/>
<line x1="207.49" y1="386.3" x2="207.49" y2="408.1" stroke="#ea5250" stroke-width="0.9" opacity="0.85"/>
<rect x="205.99" y="396.3" width="3" height="11.3" fill="#ea5250"/>
<line x1="211.55" y1="401.4" x2="211.55" y2="422.6" stroke="#ea5250" stroke-width="0.9" opacity="0.85"/>
<rect x="210.05" y="407.1" width="3" height="11.0" fill="#ea5250"/>
<line x1="215.61" y1="396.3" x2="215.61" y2="423.9" stroke="#289f94" stroke-width="0.9" opacity="0.85"/>
<rect x="214.11" y="400.1" width="3" height="18.0" fill="#289f94"/>
<line x1="219.67" y1="347.5" x2="219.67" y2="401.4" stroke="#289f94" stroke-width="0.9" opacity="0.85"/>
<rect x="218.17" y="355.0" width="3" height="45.6" fill="#289f94"/>
<line x1="223.73" y1="345.0" x2="223.73" y2="358.8" stroke="#ea5250" stroke-width="0.9" opacity="0.85"/>
<rect x="222.23" y="355.0" width="3" height="3.0" fill="#ea5250"/>
<line x1="227.78" y1="357.5" x2="227.78" y2="375.1" stroke="#ea5250" stroke-width="0.9" opacity="0.85"/>
<rect x="226.28" y="358.0" width="3" height="15.8" fill="#ea5250"/>
<line x1="231.84" y1="372.6" x2="231.84" y2="378.1" stroke="#ea5250" stroke-width="0.9" opacity="0.85"/>
<rect x="230.34" y="373.8" width="3" height="3.8" fill="#ea5250"/>
<line x1="235.90" y1="377.7" x2="235.90" y2="391.4" stroke="#ea5250" stroke-width="0.9" opacity="0.85"/>
<rect x="234.40" y="378.2" width="3" height="4.5" fill="#ea5250"/>
<line x1="239.96" y1="380.2" x2="239.96" y2="395.2" stroke="#289f94" stroke-width="0.9" opacity="0.85"/>
<rect x="238.46" y="380.7" width="3" height="2.0" fill="#289f94"/>
<line x1="244.02" y1="366.4" x2="244.02" y2="388.9" stroke="#289f94" stroke-width="0.9" opacity="0.85"/>
<rect x="242.52" y="369.7" width="3" height="11.8" fill="#289f94"/>
<line x1="248.07" y1="346.4" x2="248.07" y2="375.2" stroke="#289f94" stroke-width="0.9" opacity="0.85"/>
<rect x="246.57" y="354.6" width="3" height="15.5" fill="#289f94"/>
<line x1="252.13" y1="345.1" x2="252.13" y2="368.9" stroke="#ea5250" stroke-width="0.9" opacity="0.85"/>
<rect x="250.63" y="354.6" width="3" height="13.0" fill="#ea5250"/>
<line x1="256.19" y1="357.6" x2="256.19" y2="372.7" stroke="#289f94" stroke-width="0.9" opacity="0.85"/>
<rect x="254.69" y="359.6" width="3" height="8.5" fill="#289f94"/>
<line x1="260.25" y1="360.1" x2="260.25" y2="376.4" stroke="#ea5250" stroke-width="0.9" opacity="0.85"/>
<rect x="258.75" y="360.6" width="3" height="13.3" fill="#ea5250"/>
<line x1="264.31" y1="366.4" x2="264.31" y2="382.7" stroke="#289f94" stroke-width="0.9" opacity="0.85"/>
<rect x="262.81" y="367.2" width="3" height="6.8" fill="#289f94"/>
<line x1="268.36" y1="320.1" x2="268.36" y2="368.2" stroke="#289f94" stroke-width="0.9" opacity="0.85"/>
<rect x="266.86" y="325.1" width="3" height="42.6" fill="#289f94"/>
<line x1="272.42" y1="323.8" x2="272.42" y2="333.8" stroke="#289f94" stroke-width="0.9" opacity="0.85"/>
<rect x="270.92" y="324.6" width="3" height="2.0" fill="#289f94"/>
<line x1="276.48" y1="309.6" x2="276.48" y2="333.8" stroke="#289f94" stroke-width="0.9" opacity="0.85"/>
<rect x="274.98" y="324.1" width="3" height="2.5" fill="#289f94"/>
<line x1="280.54" y1="316.3" x2="280.54" y2="330.1" stroke="#ea5250" stroke-width="0.9" opacity="0.85"/>
<rect x="279.04" y="324.6" width="3" height="1.0" fill="#ea5250"/>
<line x1="284.60" y1="320.1" x2="284.60" y2="331.3" stroke="#ea5250" stroke-width="0.9" opacity="0.85"/>
<rect x="283.10" y="323.8" width="3" height="2.8" fill="#ea5250"/>
<line x1="288.65" y1="325.6" x2="288.65" y2="343.9" stroke="#ea5250" stroke-width="0.9" opacity="0.85"/>
<rect x="287.15" y="326.1" width="3" height="8.5" fill="#ea5250"/>
<line x1="292.71" y1="322.6" x2="292.71" y2="336.3" stroke="#289f94" stroke-width="0.9" opacity="0.85"/>
<rect x="291.21" y="324.6" width="3" height="10.0" fill="#289f94"/>
<line x1="296.77" y1="320.1" x2="296.77" y2="337.6" stroke="#ea5250" stroke-width="0.9" opacity="0.85"/>
<rect x="295.27" y="324.6" width="3" height="7.5" fill="#ea5250"/>
<line x1="300.83" y1="328.8" x2="300.83" y2="340.1" stroke="#ea5250" stroke-width="0.9" opacity="0.85"/>
<rect x="299.33" y="331.3" width="3" height="3.8" fill="#ea5250"/>
<line x1="304.89" y1="326.3" x2="304.89" y2="338.9" stroke="#ea5250" stroke-width="0.9" opacity="0.85"/>
<rect x="303.39" y="334.6" width="3" height="2.5" fill="#ea5250"/>
<line x1="308.94" y1="306.3" x2="308.94" y2="337.6" stroke="#289f94" stroke-width="0.9" opacity="0.85"/>
<rect x="307.44" y="324.6" width="3" height="12.5" fill="#289f94"/>
<line x1="313.00" y1="298.0" x2="313.00" y2="325.1" stroke="#289f94" stroke-width="0.9" opacity="0.85"/>
<rect x="311.50" y="306.3" width="3" height="18.3" fill="#289f94"/>
<line x1="317.06" y1="306.5" x2="317.06" y2="331.3" stroke="#ea5250" stroke-width="0.9" opacity="0.85"/>
<rect x="315.56" y="307.0" width="3" height="10.5" fill="#ea5250"/>
<line x1="321.12" y1="316.3" x2="321.12" y2="330.1" stroke="#ea5250" stroke-width="0.9" opacity="0.85"/>
<rect x="319.62" y="317.6" width="3" height="8.0" fill="#ea5250"/>
<line x1="325.18" y1="317.6" x2="325.18" y2="330.1" stroke="#ea5250" stroke-width="0.9" opacity="0.85"/>
<rect x="323.68" y="325.1" width="3" height="3.8" fill="#ea5250"/>
<line x1="329.23" y1="320.1" x2="329.23" y2="340.1" stroke="#ea5250" stroke-width="0.9" opacity="0.85"/>
<rect x="327.73" y="328.3" width="3" height="8.8" fill="#ea5250"/>
<line x1="333.29" y1="333.8" x2="333.29" y2="342.6" stroke="#ea5250" stroke-width="0.9" opacity="0.85"/>
<rect x="331.79" y="335.6" width="3" height="4.0" fill="#ea5250"/>
<line x1="337.35" y1="331.3" x2="337.35" y2="340.1" stroke="#289f94" stroke-width="0.9" opacity="0.85"/>
<rect x="335.85" y="333.1" width="3" height="6.5" fill="#289f94"/>
<line x1="341.41" y1="333.1" x2="341.41" y2="353.1" stroke="#ea5250" stroke-width="0.9" opacity="0.85"/>
<rect x="339.91" y="333.6" width="3" height="9.0" fill="#ea5250"/>
<line x1="345.47" y1="338.9" x2="345.47" y2="345.6" stroke="#289f94" stroke-width="0.9" opacity="0.85"/>
<rect x="343.97" y="340.1" width="3" height="1.5" fill="#289f94"/>
<line x1="349.52" y1="331.3" x2="349.52" y2="343.1" stroke="#289f94" stroke-width="0.9" opacity="0.85"/>
<rect x="348.02" y="337.1" width="3" height="5.5" fill="#289f94"/>
<line x1="353.58" y1="333.8" x2="353.58" y2="342.6" stroke="#289f94" stroke-width="0.9" opacity="0.85"/>
<rect x="352.08" y="335.6" width="3" height="2.5" fill="#289f94"/>
<line x1="357.64" y1="330.1" x2="357.64" y2="341.4" stroke="#289f94" stroke-width="0.9" opacity="0.85"/>
<rect x="356.14" y="331.3" width="3" height="5.0" fill="#289f94"/>
<line x1="361.70" y1="325.0" x2="361.70" y2="336.3" stroke="#289f94" stroke-width="0.9" opacity="0.85"/>
<rect x="360.20" y="325.5" width="3" height="10.0" fill="#289f94"/>
<line x1="365.76" y1="320.0" x2="365.76" y2="327.5" stroke="#289f94" stroke-width="0.9" opacity="0.85"/>
<rect x="364.26" y="322.5" width="3" height="3.8" fill="#289f94"/>
<line x1="369.81" y1="320.0" x2="369.81" y2="343.8" stroke="#ea5250" stroke-width="0.9" opacity="0.85"/>
<rect x="368.31" y="322.5" width="3" height="20.5" fill="#ea5250"/>
<line x1="373.87" y1="341.3" x2="373.87" y2="411.4" stroke="#ea5250" stroke-width="0.9" opacity="0.85"/>
<rect x="372.37" y="342.0" width="3" height="66.1" fill="#ea5250"/>
<line x1="377.93" y1="400.1" x2="377.93" y2="415.2" stroke="#289f94" stroke-width="0.9" opacity="0.85"/>
<rect x="376.43" y="401.4" width="3" height="6.8" fill="#289f94"/>
<line x1="381.99" y1="397.6" x2="381.99" y2="405.1" stroke="#ea5250" stroke-width="0.9" opacity="0.85"/>
<rect x="380.49" y="401.4" width="3" height="2.5" fill="#ea5250"/>
<line x1="386.05" y1="402.6" x2="386.05" y2="449.7" stroke="#ea5250" stroke-width="0.9" opacity="0.85"/>
<rect x="384.55" y="403.9" width="3" height="38.3" fill="#ea5250"/>
<line x1="390.10" y1="435.2" x2="390.10" y2="449.7" stroke="#ea5250" stroke-width="0.9" opacity="0.85"/>
<rect x="388.60" y="440.7" width="3" height="2.5" fill="#ea5250"/>
<line x1="394.16" y1="410.2" x2="394.16" y2="443.2" stroke="#289f94" stroke-width="0.9" opacity="0.85"/>
<rect x="392.66" y="418.9" width="3" height="23.8" fill="#289f94"/>
<line x1="398.22" y1="408.9" x2="398.22" y2="420.2" stroke="#289f94" stroke-width="0.9" opacity="0.85"/>
<rect x="396.72" y="416.4" width="3" height="3.3" fill="#289f94"/>
<line x1="402.28" y1="410.2" x2="402.28" y2="418.2" stroke="#289f94" stroke-width="0.9" opacity="0.85"/>
<rect x="400.78" y="414.7" width="3" height="2.5" fill="#289f94"/>
<line x1="406.34" y1="405.1" x2="406.34" y2="425.2" stroke="#289f94" stroke-width="0.9" opacity="0.85"/>
<rect x="404.84" y="407.7" width="3" height="9.5" fill="#289f94"/>
<line x1="410.39" y1="326.4" x2="410.39" y2="411.6" stroke="#289f94" stroke-width="0.9" opacity="0.85"/>
<rect x="408.89" y="335.2" width="3" height="73.1" fill="#289f94"/>
<line x1="414.45" y1="323.9" x2="414.45" y2="336.5" stroke="#ea5250" stroke-width="0.9" opacity="0.85"/>
<rect x="412.95" y="330.7" width="3" height="5.0" fill="#ea5250"/>
<line x1="418.51" y1="330.2" x2="418.51" y2="347.7" stroke="#ea5250" stroke-width="0.9" opacity="0.85"/>
<rect x="417.01" y="331.4" width="3" height="9.3" fill="#ea5250"/>
<line x1="422.57" y1="323.9" x2="422.57" y2="342.7" stroke="#289f94" stroke-width="0.9" opacity="0.85"/>
<rect x="421.07" y="325.2" width="3" height="15.0" fill="#289f94"/>
<line x1="426.63" y1="303.9" x2="426.63" y2="326.4" stroke="#289f94" stroke-width="0.9" opacity="0.85"/>
<rect x="425.13" y="314.7" width="3" height="11.0" fill="#289f94"/>
<line x1="430.68" y1="306.4" x2="430.68" y2="318.9" stroke="#289f94" stroke-width="0.9" opacity="0.85"/>
<rect x="429.18" y="307.2" width="3" height="8.0" fill="#289f94"/>
<line x1="434.74" y1="295.1" x2="434.74" y2="325.2" stroke="#289f94" stroke-width="0.9" opacity="0.85"/>
<rect x="433.24" y="303.1" width="3" height="5.0" fill="#289f94"/>
<line x1="438.80" y1="280.1" x2="438.80" y2="311.4" stroke="#289f94" stroke-width="0.9" opacity="0.85"/>
<rect x="437.30" y="285.6" width="3" height="18.3" fill="#289f94"/>
<line x1="442.86" y1="250.1" x2="442.86" y2="287.6" stroke="#289f94" stroke-width="0.9" opacity="0.85"/>
<rect x="441.36" y="261.6" width="3" height="24.0" fill="#289f94"/>
<line x1="446.92" y1="240.5" x2="446.92" y2="267.1" stroke="#289f94" stroke-width="0.9" opacity="0.85"/>
<rect x="445.42" y="253.1" width="3" height="8.5" fill="#289f94"/>
<line x1="450.97" y1="249.6" x2="450.97" y2="267.6" stroke="#ea5250" stroke-width="0.9" opacity="0.85"/>
<rect x="449.47" y="253.1" width="3" height="8.5" fill="#ea5250"/>
<line x1="455.03" y1="254.1" x2="455.03" y2="266.1" stroke="#ea5250" stroke-width="0.9" opacity="0.85"/>
<rect x="453.53" y="261.1" width="3" height="2.0" fill="#ea5250"/>
<line x1="459.09" y1="246.0" x2="459.09" y2="282.1" stroke="#289f94" stroke-width="0.9" opacity="0.85"/>
<rect x="457.59" y="253.6" width="3" height="9.0" fill="#289f94"/>
<line x1="463.15" y1="247.0" x2="463.15" y2="322.7" stroke="#ea5250" stroke-width="0.9" opacity="0.85"/>
<rect x="461.65" y="253.6" width="3" height="36.6" fill="#ea5250"/>
<line x1="467.21" y1="276.1" x2="467.21" y2="293.9" stroke="#289f94" stroke-width="0.9" opacity="0.85"/>
<rect x="465.71" y="284.1" width="3" height="6.0" fill="#289f94"/>
<line x1="471.26" y1="260.1" x2="471.26" y2="284.6" stroke="#289f94" stroke-width="0.9" opacity="0.85"/>
<rect x="469.76" y="269.1" width="3" height="15.0" fill="#289f94"/>
<line x1="475.32" y1="264.6" x2="475.32" y2="275.1" stroke="#289f94" stroke-width="0.9" opacity="0.85"/>
<rect x="473.82" y="267.6" width="3" height="1.5" fill="#289f94"/>
<line x1="479.38" y1="267.1" x2="479.38" y2="286.4" stroke="#ea5250" stroke-width="0.9" opacity="0.85"/>
<rect x="477.88" y="267.6" width="3" height="17.0" fill="#ea5250"/>
<line x1="483.44" y1="274.6" x2="483.44" y2="303.9" stroke="#ea5250" stroke-width="0.9" opacity="0.85"/>
<rect x="481.94" y="284.6" width="3" height="10.0" fill="#ea5250"/>
<line x1="487.50" y1="292.6" x2="487.50" y2="347.7" stroke="#ea5250" stroke-width="0.9" opacity="0.85"/>
<rect x="486.00" y="293.9" width="3" height="28.8" fill="#ea5250"/>
<line x1="491.55" y1="318.9" x2="491.55" y2="333.9" stroke="#ea5250" stroke-width="0.9" opacity="0.85"/>
<rect x="490.05" y="321.4" width="3" height="7.5" fill="#ea5250"/>
<line x1="495.61" y1="318.9" x2="495.61" y2="331.4" stroke="#289f94" stroke-width="0.9" opacity="0.85"/>
<rect x="494.11" y="321.4" width="3" height="7.5" fill="#289f94"/>
<line x1="499.67" y1="320.2" x2="499.67" y2="327.7" stroke="#289f94" stroke-width="0.9" opacity="0.85"/>
<rect x="498.17" y="322.2" width="3" height="5.0" fill="#289f94"/>
<line x1="503.73" y1="320.2" x2="503.73" y2="331.4" stroke="#ea5250" stroke-width="0.9" opacity="0.85"/>
<rect x="502.23" y="322.2" width="3" height="5.0" fill="#ea5250"/>
<line x1="507.79" y1="310.2" x2="507.79" y2="326.4" stroke="#289f94" stroke-width="0.9" opacity="0.85"/>
<rect x="506.29" y="321.4" width="3" height="1.8" fill="#289f94"/>
<line x1="511.84" y1="311.4" x2="511.84" y2="326.4" stroke="#ea5250" stroke-width="0.9" opacity="0.85"/>
<rect x="510.34" y="322.2" width="3" height="1.0" fill="#ea5250"/>
<line x1="515.90" y1="316.4" x2="515.90" y2="326.4" stroke="#ea5250" stroke-width="0.9" opacity="0.85"/>
<rect x="514.40" y="320.2" width="3" height="4.5" fill="#ea5250"/>
<line x1="519.96" y1="313.9" x2="519.96" y2="323.9" stroke="#289f94" stroke-width="0.9" opacity="0.85"/>
<rect x="518.46" y="315.2" width="3" height="8.0" fill="#289f94"/>
<line x1="524.02" y1="313.9" x2="524.02" y2="323.9" stroke="#ea5250" stroke-width="0.9" opacity="0.85"/>
<rect x="522.52" y="314.7" width="3" height="8.5" fill="#ea5250"/>
<line x1="528.08" y1="318.9" x2="528.08" y2="323.9" stroke="#ea5250" stroke-width="0.9" opacity="0.85"/>
<rect x="526.58" y="320.2" width="3" height="3.0" fill="#ea5250"/>
<line x1="532.13" y1="320.2" x2="532.13" y2="370.2" stroke="#ea5250" stroke-width="0.9" opacity="0.85"/>
<rect x="530.63" y="321.4" width="3" height="6.3" fill="#ea5250"/>
<line x1="536.19" y1="276.3" x2="536.19" y2="337.7" stroke="#289f94" stroke-width="0.9" opacity="0.85"/>
<rect x="534.69" y="281.3" width="3" height="46.3" fill="#289f94"/>
<line x1="540.25" y1="277.6" x2="540.25" y2="335.2" stroke="#ea5250" stroke-width="0.9" opacity="0.85"/>
<rect x="538.75" y="281.3" width="3" height="32.6" fill="#ea5250"/>
<line x1="544.31" y1="291.4" x2="544.31" y2="320.2" stroke="#289f94" stroke-width="0.9" opacity="0.85"/>
<rect x="542.81" y="292.6" width="3" height="22.5" fill="#289f94"/>
<line x1="548.37" y1="281.3" x2="548.37" y2="293.9" stroke="#289f94" stroke-width="0.9" opacity="0.85"/>
<rect x="546.87" y="283.1" width="3" height="9.5" fill="#289f94"/>
<line x1="552.42" y1="265.1" x2="552.42" y2="284.6" stroke="#289f94" stroke-width="0.9" opacity="0.85"/>
<rect x="550.92" y="280.1" width="3" height="3.8" fill="#289f94"/>
<line x1="556.48" y1="265.1" x2="556.48" y2="298.9" stroke="#ea5250" stroke-width="0.9" opacity="0.85"/>
<rect x="554.98" y="280.1" width="3" height="17.5" fill="#ea5250"/>
<line x1="560.54" y1="283.8" x2="560.54" y2="307.6" stroke="#289f94" stroke-width="0.9" opacity="0.85"/>
<rect x="559.04" y="289.6" width="3" height="8.0" fill="#289f94"/>
<line x1="564.60" y1="275.1" x2="564.60" y2="291.4" stroke="#289f94" stroke-width="0.9" opacity="0.85"/>
<rect x="563.10" y="287.6" width="3" height="2.5" fill="#289f94"/>
<line x1="568.66" y1="278.8" x2="568.66" y2="300.1" stroke="#289f94" stroke-width="0.9" opacity="0.85"/>
<rect x="567.16" y="285.6" width="3" height="2.5" fill="#289f94"/>
<line x1="572.71" y1="284.6" x2="572.71" y2="300.1" stroke="#ea5250" stroke-width="0.9" opacity="0.85"/>
<rect x="571.21" y="285.6" width="3" height="3.3" fill="#ea5250"/>
<line x1="576.77" y1="285.1" x2="576.77" y2="298.9" stroke="#ea5250" stroke-width="0.9" opacity="0.85"/>
<rect x="575.27" y="287.6" width="3" height="3.0" fill="#ea5250"/>
<line x1="580.83" y1="234.5" x2="580.83" y2="297.1" stroke="#289f94" stroke-width="0.9" opacity="0.85"/>
<rect x="579.33" y="238.8" width="3" height="51.8" fill="#289f94"/>
<line x1="584.89" y1="177.1" x2="584.89" y2="239.7" stroke="#289f94" stroke-width="0.9" opacity="0.85"/>
<rect x="583.39" y="193.1" width="3" height="45.8" fill="#289f94"/>
<line x1="588.95" y1="192.6" x2="588.95" y2="221.4" stroke="#ea5250" stroke-width="0.9" opacity="0.85"/>
<rect x="587.45" y="193.1" width="3" height="17.0" fill="#ea5250"/>
<line x1="593.00" y1="204.6" x2="593.00" y2="221.4" stroke="#ea5250" stroke-width="0.9" opacity="0.85"/>
<rect x="591.50" y="208.9" width="3" height="4.3" fill="#ea5250"/>
<line x1="597.06" y1="202.6" x2="597.06" y2="213.9" stroke="#289f94" stroke-width="0.9" opacity="0.85"/>
<rect x="595.56" y="204.6" width="3" height="8.0" fill="#289f94"/>
<line x1="601.12" y1="185.6" x2="601.12" y2="217.6" stroke="#ea5250" stroke-width="0.9" opacity="0.85"/>
<rect x="599.62" y="205.1" width="3" height="5.0" fill="#ea5250"/>
<line x1="605.18" y1="200.1" x2="605.18" y2="236.4" stroke="#289f94" stroke-width="0.9" opacity="0.85"/>
<rect x="603.68" y="205.6" width="3" height="4.5" fill="#289f94"/>
<line x1="609.24" y1="162.5" x2="609.24" y2="207.6" stroke="#289f94" stroke-width="0.9" opacity="0.85"/>
<rect x="607.74" y="180.1" width="3" height="26.3" fill="#289f94"/>
<line x1="613.29" y1="155.5" x2="613.29" y2="207.6" stroke="#ea5250" stroke-width="0.9" opacity="0.85"/>
<rect x="611.79" y="180.1" width="3" height="27.0" fill="#ea5250"/>
<line x1="617.35" y1="205.5" x2="617.35" y2="268.8" stroke="#ea5250" stroke-width="0.9" opacity="0.85"/>
<rect x="615.85" y="206.2" width="3" height="55.1" fill="#ea5250"/>
<line x1="621.41" y1="251.3" x2="621.41" y2="265.1" stroke="#289f94" stroke-width="0.9" opacity="0.85"/>
<rect x="619.91" y="256.3" width="3" height="7.5" fill="#289f94"/>
<line x1="625.47" y1="251.3" x2="625.47" y2="265.1" stroke="#289f94" stroke-width="0.9" opacity="0.85"/>
<rect x="623.97" y="256.3" width="3" height="3.8" fill="#289f94"/>
<line x1="629.53" y1="252.5" x2="629.53" y2="266.3" stroke="#ea5250" stroke-width="0.9" opacity="0.85"/>
<rect x="628.03" y="257.5" width="3" height="7.5" fill="#ea5250"/>
<line x1="633.58" y1="242.5" x2="633.58" y2="273.8" stroke="#289f94" stroke-width="0.9" opacity="0.85"/>
<rect x="632.08" y="258.8" width="3" height="6.3" fill="#289f94"/>
<line x1="637.64" y1="227.0" x2="637.64" y2="260.1" stroke="#289f94" stroke-width="0.9" opacity="0.85"/>
<rect x="636.14" y="242.0" width="3" height="17.5" fill="#289f94"/>
<line x1="641.70" y1="230.0" x2="641.70" y2="247.5" stroke="#289f94" stroke-width="0.9" opacity="0.85"/>
<rect x="640.20" y="238.8" width="3" height="3.8" fill="#289f94"/>
<line x1="645.76" y1="231.3" x2="645.76" y2="245.0" stroke="#289f94" stroke-width="0.9" opacity="0.85"/>
<rect x="644.26" y="237.5" width="3" height="2.0" fill="#289f94"/>
<line x1="649.82" y1="235.0" x2="649.82" y2="246.3" stroke="#ea5250" stroke-width="0.9" opacity="0.85"/>
<rect x="648.32" y="237.5" width="3" height="2.0" fill="#ea5250"/>
<line x1="653.87" y1="236.3" x2="653.87" y2="313.9" stroke="#ea5250" stroke-width="0.9" opacity="0.85"/>
<rect x="652.37" y="239.5" width="3" height="68.1" fill="#ea5250"/>
<line x1="657.93" y1="297.1" x2="657.93" y2="319.7" stroke="#289f94" stroke-width="0.9" opacity="0.85"/>
<rect x="656.43" y="307.1" width="3" height="3.0" fill="#289f94"/>
<line x1="661.99" y1="300.1" x2="661.99" y2="310.1" stroke="#289f94" stroke-width="0.9" opacity="0.85"/>
<rect x="660.49" y="303.1" width="3" height="5.0" fill="#289f94"/>
<line x1="666.05" y1="300.1" x2="666.05" y2="305.1" stroke="#289f94" stroke-width="0.9" opacity="0.85"/>
<rect x="664.55" y="301.3" width="3" height="2.5" fill="#289f94"/>
<line x1="670.11" y1="298.8" x2="670.11" y2="303.1" stroke="#289f94" stroke-width="0.9" opacity="0.85"/>
<rect x="668.61" y="299.6" width="3" height="2.5" fill="#289f94"/>
<line x1="674.16" y1="283.8" x2="674.16" y2="300.1" stroke="#289f94" stroke-width="0.9" opacity="0.85"/>
<rect x="672.66" y="289.6" width="3" height="9.3" fill="#289f94"/>
<line x1="678.22" y1="287.6" x2="678.22" y2="298.8" stroke="#ea5250" stroke-width="0.9" opacity="0.85"/>
<rect x="676.72" y="289.6" width="3" height="4.3" fill="#ea5250"/>
<line x1="682.28" y1="290.1" x2="682.28" y2="298.8" stroke="#ea5250" stroke-width="0.9" opacity="0.85"/>
<rect x="680.78" y="293.1" width="3" height="1.5" fill="#ea5250"/>
<line x1="686.34" y1="288.8" x2="686.34" y2="305.1" stroke="#289f94" stroke-width="0.9" opacity="0.85"/>
<rect x="684.84" y="290.6" width="3" height="4.0" fill="#289f94"/>
<line x1="690.40" y1="285.1" x2="690.40" y2="293.8" stroke="#289f94" stroke-width="0.9" opacity="0.85"/>
<rect x="688.90" y="288.8" width="3" height="2.5" fill="#289f94"/>
<line x1="694.45" y1="287.6" x2="694.45" y2="293.8" stroke="#ea5250" stroke-width="0.9" opacity="0.85"/>
<rect x="692.95" y="288.8" width="3" height="2.5" fill="#ea5250"/>
<line x1="698.51" y1="288.8" x2="698.51" y2="316.4" stroke="#ea5250" stroke-width="0.9" opacity="0.85"/>
<rect x="697.01" y="290.1" width="3" height="13.0" fill="#ea5250"/>
<line x1="702.57" y1="291.3" x2="702.57" y2="322.6" stroke="#ea5250" stroke-width="0.9" opacity="0.85"/>
<rect x="701.07" y="302.6" width="3" height="1.0" fill="#ea5250"/>
<line x1="706.63" y1="294.6" x2="706.63" y2="305.1" stroke="#289f94" stroke-width="0.9" opacity="0.85"/>
<rect x="705.13" y="299.6" width="3" height="3.5" fill="#289f94"/>
<line x1="710.69" y1="297.6" x2="710.69" y2="326.4" stroke="#ea5250" stroke-width="0.9" opacity="0.85"/>
<rect x="709.19" y="298.8" width="3" height="14.3" fill="#ea5250"/>
<line x1="714.74" y1="276.3" x2="714.74" y2="313.9" stroke="#289f94" stroke-width="0.9" opacity="0.85"/>
<rect x="713.24" y="294.6" width="3" height="18.5" fill="#289f94"/>
<line x1="718.80" y1="277.5" x2="718.80" y2="295.1" stroke="#289f94" stroke-width="0.9" opacity="0.85"/>
<rect x="717.30" y="285.1" width="3" height="9.5" fill="#289f94"/>
<line x1="722.86" y1="266.3" x2="722.86" y2="287.6" stroke="#289f94" stroke-width="0.9" opacity="0.85"/>
<rect x="721.36" y="274.5" width="3" height="11.8" fill="#289f94"/>
<line x1="726.92" y1="273.8" x2="726.92" y2="342.7" stroke="#ea5250" stroke-width="0.9" opacity="0.85"/>
<rect x="725.42" y="274.5" width="3" height="59.4" fill="#ea5250"/>
<line x1="730.98" y1="331.1" x2="730.98" y2="380.2" stroke="#ea5250" stroke-width="0.9" opacity="0.85"/>
<rect x="729.48" y="334.1" width="3" height="29.1" fill="#ea5250"/>
<line x1="735.03" y1="351.2" x2="735.03" y2="371.2" stroke="#289f94" stroke-width="0.9" opacity="0.85"/>
<rect x="733.53" y="352.2" width="3" height="11.0" fill="#289f94"/>
<line x1="739.09" y1="346.7" x2="739.09" y2="369.2" stroke="#ea5250" stroke-width="0.9" opacity="0.85"/>
<rect x="737.59" y="352.2" width="3" height="12.0" fill="#ea5250"/>
<line x1="743.15" y1="362.6" x2="743.15" y2="387.6" stroke="#ea5250" stroke-width="0.9" opacity="0.85"/>
<rect x="741.65" y="363.8" width="3" height="5.0" fill="#ea5250"/>
<line x1="747.21" y1="352.6" x2="747.21" y2="369.6" stroke="#289f94" stroke-width="0.9" opacity="0.85"/>
<rect x="745.71" y="355.1" width="3" height="13.8" fill="#289f94"/>
<line x1="751.27" y1="345.0" x2="751.27" y2="382.6" stroke="#289f94" stroke-width="0.9" opacity="0.85"/>
<rect x="749.77" y="352.6" width="3" height="2.5" fill="#289f94"/>
<line x1="755.32" y1="348.8" x2="755.32" y2="373.8" stroke="#ea5250" stroke-width="0.9" opacity="0.85"/>
<rect x="753.82" y="352.6" width="3" height="8.8" fill="#ea5250"/>
<line x1="759.38" y1="351.3" x2="759.38" y2="362.6" stroke="#289f94" stroke-width="0.9" opacity="0.85"/>
<rect x="757.88" y="352.6" width="3" height="8.8" fill="#289f94"/>
<line x1="763.44" y1="348.8" x2="763.44" y2="361.3" stroke="#ea5250" stroke-width="0.9" opacity="0.85"/>
<rect x="761.94" y="353.1" width="3" height="7.0" fill="#ea5250"/>
<line x1="767.50" y1="356.3" x2="767.50" y2="371.3" stroke="#ea5250" stroke-width="0.9" opacity="0.85"/>
<rect x="766.00" y="358.8" width="3" height="1.0" fill="#ea5250"/>
<line x1="771.56" y1="358.8" x2="771.56" y2="375.1" stroke="#ea5250" stroke-width="0.9" opacity="0.85"/>
<rect x="770.06" y="359.6" width="3" height="7.5" fill="#ea5250"/>
<line x1="775.61" y1="326.3" x2="775.61" y2="385.1" stroke="#ea5250" stroke-width="0.9" opacity="0.85"/>
<rect x="774.11" y="366.3" width="3" height="11.3" fill="#ea5250"/>
<line x1="779.67" y1="367.6" x2="779.67" y2="422.7" stroke="#ea5250" stroke-width="0.9" opacity="0.85"/>
<rect x="778.17" y="377.1" width="3" height="33.6" fill="#ea5250"/>
<line x1="783.73" y1="403.9" x2="783.73" y2="416.4" stroke="#289f94" stroke-width="0.9" opacity="0.85"/>
<rect x="782.23" y="405.1" width="3" height="5.5" fill="#289f94"/>
<line x1="787.79" y1="400.1" x2="787.79" y2="408.9" stroke="#289f94" stroke-width="0.9" opacity="0.85"/>
<rect x="786.29" y="405.1" width="3" height="1.3" fill="#289f94"/>
<line x1="791.85" y1="402.6" x2="791.85" y2="410.2" stroke="#289f94" stroke-width="0.9" opacity="0.85"/>
<rect x="790.35" y="405.1" width="3" height="1.0" fill="#289f94"/>
<line x1="795.90" y1="392.6" x2="795.90" y2="406.4" stroke="#289f94" stroke-width="0.9" opacity="0.85"/>
<rect x="794.40" y="395.1" width="3" height="10.0" fill="#289f94"/>
<line x1="799.96" y1="338.8" x2="799.96" y2="396.4" stroke="#289f94" stroke-width="0.9" opacity="0.85"/>
<rect x="798.46" y="352.6" width="3" height="42.6" fill="#289f94"/>
<line x1="804.02" y1="351.3" x2="804.02" y2="428.7" stroke="#ea5250" stroke-width="0.9" opacity="0.85"/>
<rect x="802.52" y="352.6" width="3" height="74.1" fill="#ea5250"/>
<line x1="808.08" y1="402.6" x2="808.08" y2="427.2" stroke="#289f94" stroke-width="0.9" opacity="0.85"/>
<rect x="806.58" y="408.2" width="3" height="18.5" fill="#289f94"/>
<line x1="812.14" y1="366.3" x2="812.14" y2="415.7" stroke="#289f94" stroke-width="0.9" opacity="0.85"/>
<rect x="810.64" y="376.3" width="3" height="31.8" fill="#289f94"/>
<line x1="816.19" y1="357.6" x2="816.19" y2="377.6" stroke="#289f94" stroke-width="0.9" opacity="0.85"/>
<rect x="814.69" y="358.8" width="3" height="17.5" fill="#289f94"/>
<line x1="820.25" y1="345.0" x2="820.25" y2="363.8" stroke="#289f94" stroke-width="0.9" opacity="0.85"/>
<rect x="818.75" y="352.6" width="3" height="6.3" fill="#289f94"/>
<line x1="824.31" y1="330.0" x2="824.31" y2="360.1" stroke="#289f94" stroke-width="0.9" opacity="0.85"/>
<rect x="822.81" y="352.1" width="3" height="1.0" fill="#289f94"/>
<line x1="828.37" y1="335.0" x2="828.37" y2="365.1" stroke="#289f94" stroke-width="0.9" opacity="0.85"/>
<rect x="826.87" y="345.0" width="3" height="7.5" fill="#289f94"/>
<line x1="832.43" y1="341.3" x2="832.43" y2="348.0" stroke="#289f94" stroke-width="0.9" opacity="0.85"/>
<rect x="830.93" y="344.5" width="3" height="2.5" fill="#289f94"/>
<line x1="836.48" y1="342.0" x2="836.48" y2="349.6" stroke="#ea5250" stroke-width="0.9" opacity="0.85"/>
<rect x="834.98" y="343.0" width="3" height="4.0" fill="#ea5250"/>
<line x1="840.54" y1="341.3" x2="840.54" y2="347.5" stroke="#ea5250" stroke-width="0.9" opacity="0.85"/>
<rect x="839.04" y="342.0" width="3" height="3.5" fill="#ea5250"/>
<line x1="844.60" y1="341.3" x2="844.60" y2="347.0" stroke="#289f94" stroke-width="0.9" opacity="0.85"/>
<rect x="843.10" y="343.0" width="3" height="2.0" fill="#289f94"/>
<line x1="848.66" y1="342.0" x2="848.66" y2="350.1" stroke="#ea5250" stroke-width="0.9" opacity="0.85"/>
<rect x="847.16" y="343.0" width="3" height="4.0" fill="#ea5250"/>
<line x1="852.72" y1="345.0" x2="852.72" y2="348.0" stroke="#ea5250" stroke-width="0.9" opacity="0.85"/>
<rect x="851.22" y="346.3" width="3" height="1.0" fill="#ea5250"/>
<line x1="856.77" y1="345.0" x2="856.77" y2="348.8" stroke="#ea5250" stroke-width="0.9" opacity="0.85"/>
<rect x="855.27" y="346.3" width="3" height="1.3" fill="#ea5250"/>
<line x1="860.83" y1="345.0" x2="860.83" y2="355.1" stroke="#ea5250" stroke-width="0.9" opacity="0.85"/>
<rect x="859.33" y="346.3" width="3" height="3.3" fill="#ea5250"/>
<line x1="864.89" y1="345.0" x2="864.89" y2="350.1" stroke="#289f94" stroke-width="0.9" opacity="0.85"/>
<rect x="863.39" y="346.3" width="3" height="3.3" fill="#289f94"/>
<line x1="868.95" y1="335.0" x2="868.95" y2="347.5" stroke="#289f94" stroke-width="0.9" opacity="0.85"/>
<rect x="867.45" y="340.5" width="3" height="6.5" fill="#289f94"/>
<line x1="873.01" y1="336.3" x2="873.01" y2="362.6" stroke="#ea5250" stroke-width="0.9" opacity="0.85"/>
<rect x="871.51" y="340.6" width="3" height="7.5" fill="#ea5250"/>
<line x1="877.06" y1="340.1" x2="877.06" y2="349.6" stroke="#289f94" stroke-width="0.9" opacity="0.85"/>
<rect x="875.56" y="341.3" width="3" height="6.8" fill="#289f94"/>
<line x1="881.12" y1="333.8" x2="881.12" y2="350.1" stroke="#289f94" stroke-width="0.9" opacity="0.85"/>
<rect x="879.62" y="338.1" width="3" height="4.5" fill="#289f94"/>
<line x1="885.18" y1="308.8" x2="885.18" y2="342.6" stroke="#289f94" stroke-width="0.9" opacity="0.85"/>
<rect x="883.68" y="330.1" width="3" height="8.8" fill="#289f94"/>
<line x1="889.24" y1="321.3" x2="889.24" y2="331.3" stroke="#289f94" stroke-width="0.9" opacity="0.85"/>
<rect x="887.74" y="325.6" width="3" height="4.5" fill="#289f94"/>
<line x1="893.30" y1="315.0" x2="893.30" y2="327.6" stroke="#289f94" stroke-width="0.9" opacity="0.85"/>
<rect x="891.80" y="318.0" width="3" height="9.0" fill="#289f94"/>
<line x1="897.35" y1="306.3" x2="897.35" y2="330.1" stroke="#289f94" stroke-width="0.9" opacity="0.85"/>
<rect x="895.85" y="316.3" width="3" height="2.5" fill="#289f94"/>
<line x1="901.41" y1="313.8" x2="901.41" y2="348.9" stroke="#ea5250" stroke-width="0.9" opacity="0.85"/>
<rect x="899.91" y="316.3" width="3" height="30.1" fill="#ea5250"/>
<line x1="905.47" y1="333.1" x2="905.47" y2="352.6" stroke="#289f94" stroke-width="0.9" opacity="0.85"/>
<rect x="903.97" y="334.6" width="3" height="11.8" fill="#289f94"/>
<line x1="909.53" y1="323.8" x2="909.53" y2="350.1" stroke="#ea5250" stroke-width="0.9" opacity="0.85"/>
<rect x="908.03" y="335.1" width="3" height="8.8" fill="#ea5250"/>
<line x1="913.59" y1="338.8" x2="913.59" y2="360.1" stroke="#ea5250" stroke-width="0.9" opacity="0.85"/>
<rect x="912.09" y="343.1" width="3" height="10.0" fill="#ea5250"/>
<line x1="917.64" y1="348.1" x2="917.64" y2="357.6" stroke="#289f94" stroke-width="0.9" opacity="0.85"/>
<rect x="916.14" y="349.6" width="3" height="3.5" fill="#289f94"/>
<line x1="921.70" y1="348.1" x2="921.70" y2="377.7" stroke="#ea5250" stroke-width="0.9" opacity="0.85"/>
<rect x="920.20" y="349.6" width="3" height="17.5" fill="#ea5250"/>
<line x1="925.76" y1="359.6" x2="925.76" y2="375.1" stroke="#289f94" stroke-width="0.9" opacity="0.85"/>
<rect x="924.26" y="360.6" width="3" height="6.5" fill="#289f94"/>
<line x1="929.82" y1="347.6" x2="929.82" y2="362.6" stroke="#289f94" stroke-width="0.9" opacity="0.85"/>
<rect x="928.32" y="352.6" width="3" height="8.8" fill="#289f94"/>
<line x1="933.88" y1="348.9" x2="933.88" y2="370.1" stroke="#ea5250" stroke-width="0.9" opacity="0.85"/>
<rect x="932.38" y="352.6" width="3" height="8.0" fill="#ea5250"/>
<line x1="937.93" y1="360.1" x2="937.93" y2="371.4" stroke="#ea5250" stroke-width="0.9" opacity="0.85"/>
<rect x="936.43" y="360.6" width="3" height="5.8" fill="#ea5250"/>
<line x1="941.99" y1="365.1" x2="941.99" y2="372.6" stroke="#ea5250" stroke-width="0.9" opacity="0.85"/>
<rect x="940.49" y="366.4" width="3" height="3.3" fill="#ea5250"/>
<line x1="946.05" y1="362.6" x2="946.05" y2="385.2" stroke="#ea5250" stroke-width="0.9" opacity="0.85"/>
<rect x="944.55" y="368.9" width="3" height="1.3" fill="#ea5250"/>
<line x1="950.11" y1="360.1" x2="950.11" y2="370.1" stroke="#289f94" stroke-width="0.9" opacity="0.85"/>
<rect x="948.61" y="361.4" width="3" height="8.3" fill="#289f94"/>
<line x1="954.17" y1="356.4" x2="954.17" y2="363.9" stroke="#289f94" stroke-width="0.9" opacity="0.85"/>
<rect x="952.67" y="361.1" width="3" height="1.0" fill="#289f94"/>
<line x1="958.22" y1="357.6" x2="958.22" y2="365.1" stroke="#289f94" stroke-width="0.9" opacity="0.85"/>
<rect x="956.72" y="361.1" width="3" height="1.0" fill="#289f94"/>
<line x1="962.28" y1="360.1" x2="962.28" y2="363.9" stroke="#ea5250" stroke-width="0.9" opacity="0.85"/>
<rect x="960.78" y="361.1" width="3" height="2.0" fill="#ea5250"/>
<line x1="966.34" y1="361.4" x2="966.34" y2="373.9" stroke="#ea5250" stroke-width="0.9" opacity="0.85"/>
<rect x="964.84" y="362.6" width="3" height="7.5" fill="#ea5250"/>
<line x1="970.40" y1="353.9" x2="970.40" y2="370.6" stroke="#289f94" stroke-width="0.9" opacity="0.85"/>
<rect x="968.90" y="355.1" width="3" height="15.0" fill="#289f94"/>
<line x1="974.46" y1="352.6" x2="974.46" y2="361.4" stroke="#ea5250" stroke-width="0.9" opacity="0.85"/>
<rect x="972.96" y="353.9" width="3" height="2.5" fill="#ea5250"/>
<line x1="978.51" y1="354.6" x2="978.51" y2="382.7" stroke="#ea5250" stroke-width="0.9" opacity="0.85"/>
<rect x="977.01" y="355.6" width="3" height="22.5" fill="#ea5250"/>
<line x1="982.57" y1="341.3" x2="982.57" y2="380.2" stroke="#289f94" stroke-width="0.9" opacity="0.85"/>
<rect x="981.07" y="353.9" width="3" height="24.3" fill="#289f94"/>
<line x1="986.63" y1="341.3" x2="986.63" y2="355.6" stroke="#ea5250" stroke-width="0.9" opacity="0.85"/>
<rect x="985.13" y="349.6" width="3" height="5.0" fill="#ea5250"/>
<line x1="990.69" y1="348.9" x2="990.69" y2="357.6" stroke="#289f94" stroke-width="0.9" opacity="0.85"/>
<rect x="989.19" y="350.1" width="3" height="7.0" fill="#289f94"/>
<line x1="994.75" y1="345.1" x2="994.75" y2="380.2" stroke="#ea5250" stroke-width="0.9" opacity="0.85"/>
<rect x="993.25" y="350.1" width="3" height="20.5" fill="#ea5250"/>
<line x1="998.80" y1="367.6" x2="998.80" y2="376.4" stroke="#289f94" stroke-width="0.9" opacity="0.85"/>
<rect x="997.30" y="368.9" width="3" height="1.8" fill="#289f94"/>
<line x1="1002.86" y1="367.1" x2="1002.86" y2="370.1" stroke="#289f94" stroke-width="0.9" opacity="0.85"/>
<rect x="1001.36" y="368.1" width="3" height="1.0" fill="#289f94"/>
<line x1="1006.92" y1="364.6" x2="1006.92" y2="369.6" stroke="#289f94" stroke-width="0.9" opacity="0.85"/>
<rect x="1005.42" y="365.6" width="3" height="2.5" fill="#289f94"/>
<line x1="1010.98" y1="364.1" x2="1010.98" y2="367.1" stroke="#ea5250" stroke-width="0.9" opacity="0.85"/>
<rect x="1009.48" y="365.1" width="3" height="1.0" fill="#ea5250"/>
<line x1="1015.04" y1="363.9" x2="1015.04" y2="370.6" stroke="#ea5250" stroke-width="0.9" opacity="0.85"/>
<rect x="1013.54" y="365.1" width="3" height="2.0" fill="#ea5250"/>
<line x1="1019.09" y1="366.1" x2="1019.09" y2="368.1" stroke="#289f94" stroke-width="0.9" opacity="0.85"/>
<rect x="1017.59" y="366.6" width="3" height="1.0" fill="#289f94"/>
<line x1="1023.15" y1="366.7" x2="1023.15" y2="370.9" stroke="#289f94" stroke-width="0.9" opacity="0.85"/>
<rect x="1021.65" y="367.6" width="3" height="1.2" fill="#289f94"/>
<line x1="1027.21" y1="358.7" x2="1027.21" y2="368.1" stroke="#289f94" stroke-width="0.9" opacity="0.85"/>
<rect x="1025.71" y="359.7" width="3" height="7.8" fill="#289f94"/>
<line x1="1031.27" y1="359.7" x2="1031.27" y2="361.7" stroke="#289f94" stroke-width="0.9" opacity="0.85"/>
<rect x="1029.77" y="360.1" width="3" height="1.0" fill="#289f94"/>
<line x1="1035.33" y1="360.4" x2="1035.33" y2="362.4" stroke="#289f94" stroke-width="0.9" opacity="0.85"/>
<rect x="1033.83" y="360.7" width="3" height="1.3" fill="#289f94"/>
<rect x="1160" y="0" width="40" height="551" fill="#fff"/>
<rect x="0" y="534.5" width="1200" height="17" fill="#fff"/>
<line x1="1159.5" y1="0" x2="1159.5" y2="551" stroke="#e0e3eb" stroke-width="1"/>
<line x1="0" y1="534.5" x2="1200" y2="534.5" stroke="#e0e3eb" stroke-width="1"/>
<rect x="1162.5" y="3.5" width="40" height="15.5" rx="2" fill="#fff" stroke="#f1f3f6" stroke-width="1"/>
<path d="M1194.1,10.4 l1.7,1.6 l1.7,-1.6" fill="none" stroke="#131722" stroke-width="0.9"/>
<rect x="1160" y="355.5" width="40" height="20.5" fill="#26a69a"/>
<polygon points="1186.0,544.0 1183.5,548.3 1178.5,548.3 1176.0,544.0 1178.5,539.7 1183.5,539.7" fill="none" stroke="#131722" stroke-width="1"/>
<circle cx="1181" cy="544" r="1.6" fill="none" stroke="#131722" stroke-width="0.9"/>
<circle cx="10" cy="10.7" r="6" fill="#3f4e92"/>
<path d="M9.9,7.4 L12.4,10.9 L9.9,12.3 L7.4,10.9 Z" fill="#c5cbf4"/><path d="M9.9,12.9 L12.4,11.5 L9.9,14.5 L7.4,11.5 Z" fill="#a9b1ea"/>
<circle cx="209" cy="11" r="5" fill="#089981" opacity="0.18"/><circle cx="209" cy="11" r="2.6" fill="#089981"/>
<rect x="4" y="64.5" width="18" height="13" rx="2" fill="#fff" stroke="#e0e3eb" stroke-width="1"/>
<path d="M10.4,72.3 l2.4,-2.4 l2.4,2.4" fill="none" stroke="#131722" stroke-width="1.1"/>
<polygon points="1075.8,264.2 1037.8,295.8 1035.4,290.4 1031,309 1049.4,304.6 1045.2,302.6" fill="#ee3345"/>
<polygon points="884.7,405.1 900.3,377.6 896.1,375.5 909.4,369.7 907.9,384.4 905,381.6" fill="#ee3345"/>
<circle cx="1036.1" cy="525.9" r="6.4" fill="#fff" stroke="#6a4fc8" stroke-width="1"/>
<path d="M1037.6,521.8 l-3.6,4.6 h2.4 l-1.6,3.6 l4,-5 h-2.6 z" fill="#6a4fc8"/>
<path d="M1028.3,524.6 q0.5,3.2 3.8,3.8 q-3.3,0.6 -3.8,3.8 q-0.5,-3.2 -3.8,-3.8 q3.3,-0.6 3.8,-3.8z" fill="#6a55d8" stroke="#fff" stroke-width="0.6"/>
<clipPath id="fc"><circle cx="1095.8" cy="525.9" r="6"/></clipPath>
<g clip-path="url(#fc)"><rect x="1089" y="519" width="14" height="14" fill="#fff"/><rect x="1089" y="519.5" width="14" height="1.7" fill="#e8506a"/><rect x="1089" y="523" width="14" height="1.7" fill="#e8506a"/><rect x="1089" y="526.6" width="14" height="1.7" fill="#e8506a"/><rect x="1089" y="530" width="14" height="2" fill="#e8506a"/><rect x="1089" y="519" width="8" height="7.2" fill="#4a78d8"/></g>
<circle cx="1095.8" cy="525.9" r="6.4" fill="none" stroke="#e8506a" stroke-width="1"/>
<g transform="translate(6.3,512.86) scale(0.535)" fill="#131722"><path d="M14 22H7V11H0V4h14v18zM28 22h-8l7.5-18h8L28 22z"/><circle cx="20" cy="8" r="4"/></g>
</svg>
<div style="position:absolute;left:1160px;top:355.5px;width:40px;height:20.5px;background:#26a69a;z-index:2"></div>
<div class="abs title">Ethereum / U.S. Dollar · 4h · Bitstamp</div>
<div class="abs ohlc" style="left:220px"><b>O</b>2,940.4</div>
<div class="abs ohlc" style="left:259.6px"><b>H</b>2,944.9</div>
<div class="abs ohlc" style="left:299px"><b>L</b>2,939.6</div>
<div class="abs ohlc" style="left:337px"><b>C</b>2,943.2</div>
<div class="abs ohlc" style="left:376px;letter-spacing:-0.06px">+1.6 (+0.05%)</div>
<div class="box sell"><div class="p">2,943.2</div><div class="l">SELL</div></div>
<div class="abs spread">0.0</div>
<div class="box buy"><div class="p">2,943.2</div><div class="l">BUY</div></div>
<div class="abs leg legn" style="left:4px;color:#131722">FF EMAR close</div>
<div class="abs leg" style="left:63.9px;color:#f7e7a6">2,939.8</div>
<div class="abs leg" style="left:96.7px;color:#f5e3c4">2,941.5</div>
<div class="abs leg" style="left:129.5px;color:#e2b37e">2,943.7</div>
<div class="abs leg" style="left:162.5px;color:#d9955c">2,946.2</div>
<div class="abs leg" style="left:195.3px;color:#cd6f70">2,948.8</div>
<div class="abs leg" style="left:228px;color:#b8324c">2,951.6</div>
<div class="abs leg" style="left:261px;color:#a3213b">2,954.5</div>
<div class="abs leg" style="left:294px;color:#8f1a31">2,957.5</div>
<div class="abs leg" style="left:327px;color:#62dfe8">3,053.4</div>
<div class="abs" style="left:1164.6px;top:6.9px;font-size:8.2px;color:#131722;transform:scaleX(0.8);transform-origin:left center">USD</div>
<div class="abs pl" style="top:515.0px">2,550.0</div>
<div class="abs pl" style="top:494.8px">2,600.0</div>
<div class="abs pl" style="top:474.7px">2,650.0</div>
<div class="abs pl" style="top:454.5px">2,700.0</div>
<div class="abs pl" style="top:434.3px">2,750.0</div>
<div class="abs pl" style="top:414.1px">2,800.0</div>
<div class="abs pl" style="top:394.0px">2,850.0</div>
<div class="abs pl" style="top:373.8px">2,900.0</div>
<div class="abs pl" style="top:353.6px">2,950.0</div>
<div class="abs pl" style="top:333.4px">3,000.0</div>
<div class="abs pl" style="top:313.3px">3,050.0</div>
<div class="abs pl" style="top:293.1px">3,100.0</div>
<div class="abs pl" style="top:272.9px">3,150.0</div>
<div class="abs pl" style="top:252.7px">3,200.0</div>
<div class="abs pl" style="top:232.6px">3,250.0</div>
<div class="abs pl" style="top:212.4px">3,300.0</div>
<div class="abs pl" style="top:192.2px">3,350.0</div>
<div class="abs pl" style="top:172.0px">3,400.0</div>
<div class="abs pl" style="top:151.9px">3,450.0</div>
<div class="abs pl" style="top:131.7px">3,500.0</div>
<div class="abs pl" style="top:111.5px">3,550.0</div>
<div class="abs pl" style="top:91.3px">3,600.0</div>
<div class="abs pl" style="top:71.1px">3,650.0</div>
<div class="abs pl" style="top:51.0px">3,700.0</div>
<div class="abs pl" style="top:30.8px">3,750.0</div>
<div class="abs" style="left:1165.3px;top:357.3px;font-size:8.6px;letter-spacing:-0.2px;color:#fff;z-index:3">2,943.2</div>
<div class="abs" style="left:1165.3px;top:366.2px;font-size:8.6px;letter-spacing:-0.45px;color:#d8f2ee;z-index:3">03:35:52</div>
<div class="abs tl" style="left:33px">17</div>
<div class="abs tl" style="left:81.7px">19</div>
<div class="abs tl" style="left:130.4px">21</div>
<div class="abs tl" style="left:179.1px">23</div>
<div class="abs tl" style="left:227.8px">25</div>
<div class="abs tl" style="left:276.5px">27</div>
<div class="abs tl" style="left:325.2px">29</div>
<div class="abs tl tlb tlm" style="left:373.9px">Dec</div>
<div class="abs tl" style="left:422.6px">3</div>
<div class="abs tl" style="left:471.3px">5</div>
<div class="abs tl" style="left:520px">7</div>
<div class="abs tl" style="left:568.7px">9</div>
<div class="abs tl" style="left:617.4px">11</div>
<div class="abs tl" style="left:666.1px">13</div>
<div class="abs tl" style="left:714.8px">15</div>
<div class="abs tl" style="left:763.5px">17</div>
<div class="abs tl" style="left:812.2px">19</div>
<div class="abs tl" style="left:860.9px">21</div>
<div class="abs tl" style="left:909.6px">23</div>
<div class="abs tl" style="left:958.3px">25</div>
<div class="abs tl" style="left:1007px">27</div>
<div class="abs tl" style="left:1055.7px">29</div>
<div class="abs tl tlb" style="left:1128.7px">2026</div>
<div class="abs" style="left:31.3px;top:513px;font-size:13.6px;font-weight:bold;color:#131722;letter-spacing:-0.07px" id="tv">TradingView</div>
</body>
</html>
